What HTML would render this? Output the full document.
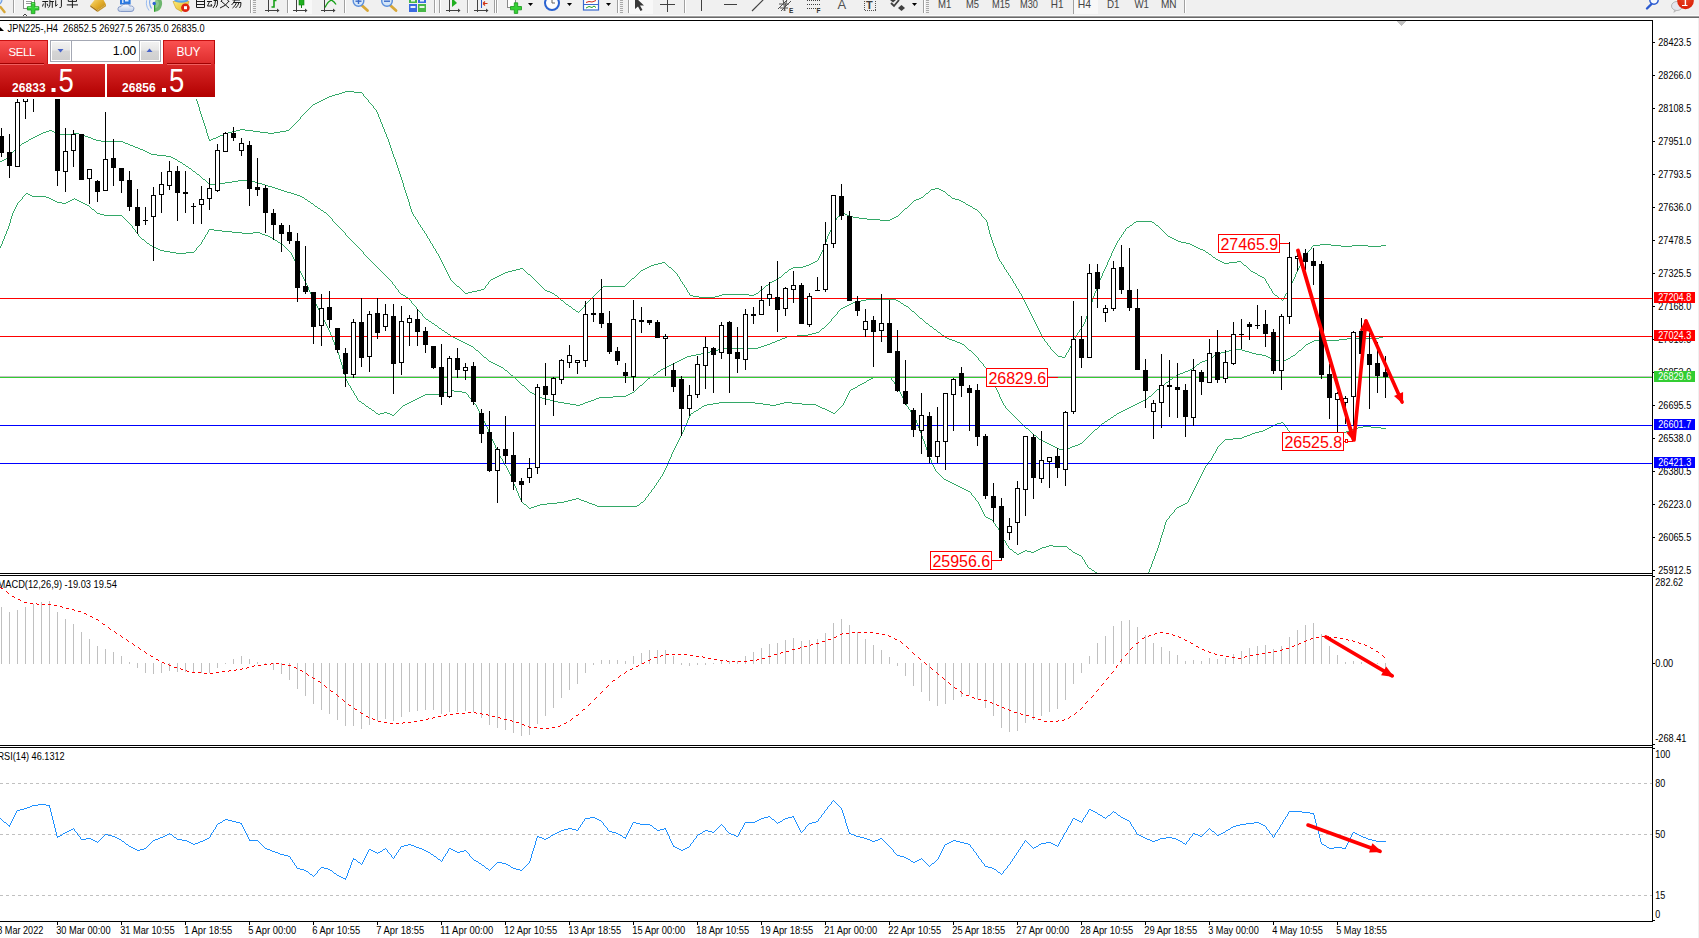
<!DOCTYPE html>
<html><head><meta charset="utf-8"><title>JPN225-,H4</title>
<style>
html,body{margin:0;padding:0;background:#fff;}
body{width:1699px;height:938px;overflow:hidden;position:relative;font-family:"Liberation Sans",sans-serif;}
svg{position:absolute;left:0;top:0;display:block}
text{font-family:"Liberation Sans",sans-serif;}
.ax{font-size:10.2px;fill:#000}
.tm{font-size:10.2px;fill:#000}
.tag{font-size:10.2px;fill:#fff}
.lbl{font-size:16px;fill:#ff0000;letter-spacing:-0.05px}
.ttl{font-size:10.2px;fill:#000}
.tf{font-size:10.2px;fill:#444}
</style></head><body>
<svg width="1699" height="938" viewBox="0 0 1699 938">
<defs>
<linearGradient id="gSell" x1="0" y1="0" x2="0" y2="1"><stop offset="0" stop-color="#fb5252"/><stop offset="1" stop-color="#dc2a2a"/></linearGradient>
<linearGradient id="gPrice" x1="0" y1="0" x2="0" y2="1"><stop offset="0" stop-color="#d92828"/><stop offset="1" stop-color="#b20000"/></linearGradient>
<linearGradient id="gBtn" x1="0" y1="0" x2="0" y2="1"><stop offset="0" stop-color="#f2f2f2"/><stop offset="0.45" stop-color="#e6e6e6"/><stop offset="0.5" stop-color="#d6d6d6"/><stop offset="1" stop-color="#cfcfcf"/></linearGradient>
<radialGradient id="gBadge" cx="0.5" cy="0.3" r="0.8"><stop offset="0" stop-color="#e84a2a"/><stop offset="1" stop-color="#d81800"/></radialGradient>
<clipPath id="cMain"><rect x="0" y="21" width="1652" height="552"/></clipPath>
<clipPath id="cMacd"><rect x="0" y="576" width="1652" height="169"/></clipPath>
<clipPath id="cRsi"><rect x="0" y="748" width="1652" height="173"/></clipPath>
</defs>
<rect x="0" y="0" width="1699" height="938" fill="#fff"/>
<g clip-path="url(#cMain)" shape-rendering="crispEdges">
<path d="M185.5 70v2M186.5 72v2M187.5 74v3M188.5 77v3M189.5 80v2M190.5 82v3M191.5 85v3M192.5 88v2M193.5 90v3M194.5 93v3M195.5 96v2M196.5 98v3M197.5 101v3M198.5 104v3M199.5 107v4M200.5 111v3M201.5 114v3M202.5 117v3M203.5 120v3M204.5 123v3M205.5 126v3M206.5 129v4M207.5 133v3M208.5 136v3M209.5 139v2M210 140.5h1M211 139.5h2M213 138.5h3M216 137.5h2M218 136.5h2M220 135.5h3M223 134.5h2M225 133.5h3M228 132.5h4M232 131.5h4M236 130.5h4M240 129.5h5M245 130.5h8M253 131.5h7M260 132.5h8M268 133.5h6M274 132.5h6M280 131.5h6M286 130.5h3M289 129.5h1M290 128.5h1M291 127.5h1M292 126.5h1M293 125.5h1M294 124.5h1M295 123.5h1M296 122.5h1M297 121.5h1M298 120.5h1M299 119.5h1M300.5 117v2M301 116.5h1M302 115.5h1M303 114.5h1M304 113.5h1M305 112.5h1M306 111.5h1M307 110.5h1M308 109.5h1M309 108.5h1M310 107.5h1M311 106.5h1M312 105.5h1M313 104.5h2M315 103.5h2M317 102.5h2M319 101.5h2M321 100.5h2M323 99.5h2M325 98.5h2M327 97.5h2M329 96.5h3M332 95.5h3M335 94.5h4M339 93.5h3M342 92.5h3M345 91.5h9M354 92.5h8M362 93.5h1M363.5 94v2M364 96.5h1M365 97.5h1M366 98.5h1M367 99.5h1M368.5 100v2M369 102.5h1M370 103.5h1M371 104.5h1M372 105.5h1M373.5 106v2M374 108.5h1M375 109.5h1M376.5 110v2M377.5 112v2M378.5 114v3M379.5 117v2M380.5 119v3M381.5 122v2M382.5 124v3M383.5 127v2M384.5 129v3M385.5 132v2M386.5 134v3M387.5 137v2M388.5 139v3M389.5 142v3M390.5 145v3M391.5 148v3M392.5 151v3M393.5 154v3M394.5 157v2M395.5 159v3M396.5 162v3M397.5 165v3M398.5 168v3M399.5 171v3M400.5 174v3M401.5 177v3M402.5 180v3M403.5 183v4M404.5 187v3M405.5 190v3M406.5 193v3M407.5 196v3M408.5 199v3M409.5 202v4M410.5 206v3M411.5 209v3M412.5 212v2M413.5 214v2M414 216.5h1M415.5 217v2M416 219.5h1M417.5 220v2M418.5 222v2M419 224.5h1M420.5 225v2M421 227.5h1M422.5 228v2M423 230.5h1M424.5 231v2M425 233.5h1M426.5 234v2M427.5 236v2M428 238.5h1M429.5 239v2M430.5 241v2M431 243.5h1M432.5 244v2M433.5 246v2M434 248.5h1M435.5 249v2M436.5 251v2M437 253.5h1M438.5 254v2M439.5 256v2M440.5 258v2M441.5 260v2M442.5 262v2M443.5 264v2M444.5 266v2M445.5 268v2M446.5 270v2M447.5 272v2M448.5 274v2M449.5 276v2M450.5 278v2M451 280.5h1M452 281.5h1M453 282.5h1M454 283.5h1M455 284.5h1M456 285.5h1M457 286.5h2M459 287.5h1M460 288.5h1M461 289.5h1M462 290.5h1M463 291.5h1M464 292.5h1M465 293.5h3M468 292.5h4M472 291.5h5M477 290.5h4M481 289.5h3M484 288.5h1M485.5 286v2M486 285.5h1M487 284.5h1M488.5 282v2M489 281.5h1M490 280.5h1M491 279.5h2M493 278.5h2M495 277.5h2M497 276.5h2M499 275.5h2M501 274.5h2M503 273.5h2M505 272.5h3M508 271.5h4M512 270.5h4M516 269.5h4M520 268.5h3M523 269.5h1M524 270.5h1M525 271.5h1M526 272.5h1M527 273.5h1M528 274.5h2M530 275.5h1M531 276.5h1M532 277.5h1M533 278.5h1M534 279.5h1M535 280.5h1M536 281.5h1M537 282.5h1M538 283.5h1M539 284.5h1M540 285.5h1M541 286.5h1M542 287.5h1M543 288.5h1M544 289.5h1M545 290.5h2M547 291.5h3M550 292.5h2M552 293.5h2M554 294.5h1M555 295.5h2M557 296.5h1M558 297.5h1M559 298.5h1M560 299.5h1M561 300.5h2M563 301.5h1M564 302.5h1M565 303.5h1M566 304.5h2M568 305.5h1M569 306.5h2M571 307.5h1M572 308.5h1M573 309.5h2M575 310.5h1M576 311.5h2M578 312.5h1M579 311.5h1M580 310.5h1M581 309.5h1M582 308.5h1M583 307.5h1M584.5 305v2M585 304.5h1M586 303.5h1M587 302.5h1M588 301.5h1M589 300.5h1M590 299.5h1M591 298.5h1M592 297.5h1M593 296.5h1M594 295.5h1M595 294.5h1M596 293.5h1M597 292.5h1M598 291.5h1M599 290.5h1M600 289.5h1M601 288.5h1M602 287.5h1M603 286.5h22M625 285.5h1M626 284.5h1M627 283.5h1M628 282.5h1M629 281.5h1M630 280.5h1M631 279.5h1M632 278.5h2M634 277.5h1M635 276.5h1M636 275.5h1M637 274.5h1M638 273.5h1M639 272.5h1M640 271.5h1M641 270.5h2M643 269.5h2M645 268.5h2M647 267.5h2M649 266.5h2M651 265.5h3M654 264.5h4M658 263.5h4M662 262.5h3M665 263.5h1M666 264.5h1M667 265.5h1M668 266.5h1M669 267.5h2M671 268.5h1M672 269.5h1M673 270.5h1M674 271.5h1M675 272.5h1M676 273.5h1M677.5 274v2M678 276.5h1M679.5 277v2M680.5 279v2M681 281.5h1M682.5 282v2M683 284.5h1M684.5 285v2M685 287.5h1M686.5 288v2M687.5 290v2M688 292.5h1M689.5 293v2M690 295.5h3M693 296.5h6M699 297.5h16M715 296.5h4M719 295.5h3M722 294.5h27M749 295.5h5M754 294.5h2M756 293.5h2M758 292.5h1M759 291.5h1M760 290.5h2M762 289.5h1M763 288.5h1M764 287.5h1M765 286.5h1M766 285.5h2M768 284.5h1M769 283.5h1M770 282.5h2M772 281.5h2M774 280.5h2M776 279.5h2M778 278.5h1M779 277.5h2M781 276.5h1M782 275.5h1M783 274.5h1M784 273.5h1M785 272.5h2M787 271.5h1M788 270.5h1M789 269.5h2M791 268.5h2M793 267.5h10M803 266.5h3M806 265.5h3M809 264.5h2M811 263.5h2M813 262.5h2M815 261.5h2M817 260.5h1M818.5 258v2M819.5 256v2M820.5 254v2M821.5 252v2M822.5 250v2M823.5 247v3M824.5 244v3M825.5 242v2M826.5 239v3M827.5 236v3M828.5 234v2M829.5 232v2M830.5 230v2M831.5 228v2M832.5 226v2M833.5 224v2M834.5 222v2M835.5 220v2M836.5 218v2M837 217.5h1M838 216.5h2M840 215.5h2M842 214.5h2M844 213.5h1M845 214.5h2M847 215.5h2M849 216.5h4M853 217.5h6M859 218.5h8M867 219.5h13M880 220.5h10M890 219.5h2M892 218.5h2M894 217.5h2M896 216.5h2M898 215.5h1M899 214.5h1M900 213.5h1M901 212.5h1M902 211.5h1M903 210.5h1M904 209.5h1M905 208.5h2M907 207.5h1M908 206.5h1M909 205.5h1M910 204.5h1M911 203.5h1M912 202.5h1M913 201.5h1M914 200.5h2M916 199.5h3M919 198.5h2M921 197.5h2M923 196.5h1M924 195.5h1M925 194.5h1M926 193.5h2M928 192.5h1M929 191.5h1M930 190.5h1M931 189.5h4M935 188.5h4M939 189.5h2M941 190.5h2M943 191.5h2M945 192.5h1M946 193.5h1M947 194.5h1M948 195.5h2M950 196.5h1M951 197.5h1M952 198.5h3M955 199.5h4M959 200.5h2M961 201.5h2M963 202.5h2M965 203.5h1M966 204.5h2M968 205.5h2M970 206.5h2M972 207.5h1M973 208.5h2M975 209.5h2M977 210.5h1M978 211.5h1M979 212.5h1M980 213.5h1M981.5 214v2M982 216.5h1M983 217.5h1M984 218.5h1M985 219.5h1M986.5 220v2M987.5 222v4M988.5 226v4M989.5 230v4M990.5 234v3M991.5 237v3M992.5 240v3M993.5 243v3M994.5 246v2M995.5 248v3M996.5 251v3M997.5 254v3M998.5 257v2M999.5 259v2M1000 261.5h1M1001.5 262v2M1002 264.5h1M1003.5 265v2M1004.5 267v2M1005 269.5h1M1006.5 270v2M1007 272.5h1M1008.5 273v2M1009 275.5h1M1010.5 276v2M1011 278.5h1M1012.5 279v2M1013.5 281v2M1014 283.5h1M1015.5 284v2M1016.5 286v2M1017 288.5h1M1018.5 289v2M1019.5 291v2M1020 293.5h1M1021.5 294v2M1022.5 296v2M1023.5 298v2M1024.5 300v2M1025.5 302v2M1026.5 304v2M1027.5 306v2M1028.5 308v2M1029.5 310v2M1030.5 312v2M1031.5 314v2M1032.5 316v2M1033.5 318v2M1034.5 320v2M1035.5 322v2M1036.5 324v2M1037.5 326v2M1038.5 328v2M1039.5 330v2M1040.5 332v2M1041.5 334v2M1042.5 336v2M1043 338.5h1M1044.5 339v2M1045 341.5h1M1046 342.5h1M1047.5 343v2M1048 345.5h1M1049 346.5h1M1050.5 347v2M1051 349.5h1M1052 350.5h1M1053 351.5h1M1054 352.5h1M1055 353.5h1M1056 354.5h1M1057 355.5h1M1058 356.5h4M1062 357.5h3M1065.5 355v2M1066.5 353v2M1067 352.5h1M1068.5 350v2M1069.5 348v2M1070.5 346v2M1071.5 344v2M1072.5 342v2M1073.5 340v2M1074.5 338v2M1075.5 336v2M1076 335.5h1M1077.5 333v2M1078 332.5h1M1079.5 330v2M1080 329.5h1M1081.5 327v2M1082 326.5h1M1083.5 324v2M1084.5 322v2M1085.5 319v3M1086.5 316v3M1087.5 313v3M1088.5 311v2M1089.5 308v3M1090.5 305v3M1091.5 302v3M1092.5 299v3M1093.5 296v3M1094.5 293v3M1095.5 291v2M1096.5 288v3M1097.5 285v3M1098.5 282v3M1099.5 280v2M1100.5 278v2M1101.5 276v2M1102.5 273v3M1103.5 271v2M1104.5 269v2M1105.5 267v2M1106.5 265v2M1107.5 262v3M1108.5 260v2M1109.5 258v2M1110.5 256v2M1111.5 253v3M1112.5 251v2M1113.5 249v2M1114.5 247v2M1115.5 245v2M1116.5 243v2M1117.5 241v2M1118 240.5h1M1119.5 238v2M1120 237.5h1M1121.5 235v2M1122 234.5h1M1123.5 232v2M1124 231.5h1M1125.5 229v2M1126 228.5h1M1127 227.5h2M1129 226.5h1M1130 225.5h2M1132 224.5h1M1133 223.5h1M1134 222.5h2M1136 221.5h16M1152 222.5h2M1154 223.5h1M1155 224.5h1M1156 225.5h2M1158 226.5h1M1159 227.5h1M1160 228.5h1M1161 229.5h1M1162 230.5h1M1163 231.5h1M1164 232.5h1M1165 233.5h1M1166 234.5h1M1167 235.5h1M1168 236.5h2M1170 237.5h2M1172 238.5h2M1174 239.5h2M1176 240.5h2M1178 241.5h3M1181 242.5h5M1186 243.5h4M1190 244.5h2M1192 245.5h2M1194 246.5h2M1196 247.5h2M1198 248.5h2M1200 249.5h3M1203 250.5h2M1205 251.5h1M1206 252.5h2M1208 253.5h1M1209 254.5h2M1211 255.5h1M1212 256.5h1M1213 257.5h2M1215 258.5h1M1216 259.5h2M1218 260.5h2M1220 261.5h2M1222 262.5h2M1224 263.5h5M1229 262.5h8M1237 261.5h4M1241 262.5h1M1242 263.5h1M1243 264.5h1M1244 265.5h2M1246 266.5h1M1247 267.5h1M1248 268.5h1M1249 269.5h1M1250 270.5h1M1251 271.5h2M1253 272.5h2M1255 273.5h2M1257 274.5h1M1258 275.5h2M1260 276.5h2M1262 277.5h2M1264 278.5h1M1265.5 279v2M1266.5 281v2M1267 283.5h1M1268.5 284v2M1269.5 286v2M1270 288.5h1M1271.5 289v2M1272.5 291v2M1273 293.5h1M1274 294.5h1M1275 295.5h2M1277 296.5h1M1278 297.5h1M1279 298.5h2M1281 299.5h1M1282 300.5h1M1283.5 298v2M1284.5 296v2M1285.5 294v2M1286 293.5h1M1287.5 291v2M1288.5 289v2M1289.5 287v2M1290.5 285v2M1291.5 283v2M1292.5 281v2M1293.5 279v2M1294.5 277v2M1295.5 274v3M1296.5 272v2M1297.5 270v2M1298.5 268v2M1299.5 266v2M1300.5 264v2M1301.5 262v2M1302.5 260v2M1303.5 258v2M1304.5 256v2M1305 255.5h1M1306 254.5h1M1307.5 252v2M1308 251.5h1M1309 250.5h1M1310 249.5h1M1311.5 247v2M1312 246.5h1M1313 245.5h7M1320 244.5h11M1331 245.5h10M1341 246.5h11M1352 245.5h16M1368 246.5h13M1381 245.5h5" fill="none" stroke="#33a867" stroke-width="1"/>
<path d="M0 161.5h2M2 160.5h2M4 159.5h2M6 158.5h1M7 157.5h1M8 156.5h1M9 155.5h1M10 154.5h1M11 153.5h1M12 152.5h1M13 151.5h1M14 150.5h1M15 149.5h1M16 148.5h2M18 147.5h1M19 146.5h1M20 145.5h1M21 144.5h1M22 143.5h2M24 142.5h2M26 141.5h2M28 140.5h1M29 139.5h2M31 138.5h2M33 137.5h2M35 136.5h2M37 135.5h2M39 134.5h2M41 133.5h2M43 132.5h3M46 131.5h3M49 130.5h3M52 131.5h2M54 132.5h3M57 133.5h2M59 134.5h14M73 133.5h6M79 134.5h3M82 135.5h3M85 136.5h3M88 137.5h3M91 138.5h2M93 139.5h3M96 140.5h5M101 141.5h22M123 142.5h2M125 143.5h3M128 144.5h2M130 145.5h3M133 146.5h2M135 147.5h3M138 148.5h2M140 149.5h3M143 150.5h2M145 151.5h2M147 152.5h2M149 153.5h2M151 154.5h6M157 155.5h9M166 156.5h5M171 157.5h2M173 158.5h2M175 159.5h2M177 160.5h1M178 161.5h2M180 162.5h2M182 163.5h1M183 164.5h2M185 165.5h1M186 166.5h2M188 167.5h1M189 168.5h2M191 169.5h1M192 170.5h1M193 171.5h2M195 172.5h1M196 173.5h1M197 174.5h2M199 175.5h1M200 176.5h1M201 177.5h1M202 178.5h1M203 179.5h2M205 180.5h1M206 181.5h1M207 182.5h1M208 183.5h1M209 184.5h7M216 183.5h9M225 182.5h7M232 181.5h6M238 180.5h10M248 181.5h7M255 182.5h3M258 183.5h4M262 184.5h3M265 185.5h3M268 186.5h4M272 187.5h3M275 188.5h3M278 189.5h3M281 190.5h3M284 191.5h3M287 192.5h4M291 193.5h3M294 194.5h3M297 195.5h3M300 196.5h2M302 197.5h2M304 198.5h1M305 199.5h2M307 200.5h1M308 201.5h2M310 202.5h1M311 203.5h2M313 204.5h1M314 205.5h1M315 206.5h2M317 207.5h1M318 208.5h2M320 209.5h1M321 210.5h2M323 211.5h1M324 212.5h2M326 213.5h1M327 214.5h1M328 215.5h1M329 216.5h1M330 217.5h1M331 218.5h1M332.5 219v2M333 221.5h1M334 222.5h1M335 223.5h1M336 224.5h1M337 225.5h1M338 226.5h1M339 227.5h1M340 228.5h1M341 229.5h1M342 230.5h1M343 231.5h1M344 232.5h1M345.5 233v2M346 235.5h1M347 236.5h1M348 237.5h1M349 238.5h1M350 239.5h1M351 240.5h1M352 241.5h1M353 242.5h1M354 243.5h1M355 244.5h1M356 245.5h1M357 246.5h1M358 247.5h1M359 248.5h1M360 249.5h1M361 250.5h1M362 251.5h1M363.5 252v2M364 254.5h1M365 255.5h1M366 256.5h1M367 257.5h1M368 258.5h1M369 259.5h1M370 260.5h1M371 261.5h1M372 262.5h1M373 263.5h1M374 264.5h1M375 265.5h1M376 266.5h1M377 267.5h1M378 268.5h1M379 269.5h1M380 270.5h1M381 271.5h1M382 272.5h1M383 273.5h1M384 274.5h1M385 275.5h1M386 276.5h1M387 277.5h1M388 278.5h1M389 279.5h1M390 280.5h1M391 281.5h1M392.5 282v2M393 284.5h1M394 285.5h1M395.5 286v2M396 288.5h1M397 289.5h1M398.5 290v2M399 292.5h1M400 293.5h1M401 294.5h2M403 295.5h2M405 296.5h1M406 297.5h2M408 298.5h1M409 299.5h1M410 300.5h1M411.5 301v2M412 303.5h1M413 304.5h1M414 305.5h1M415 306.5h1M416.5 307v2M417 309.5h1M418 310.5h1M419 311.5h1M420 312.5h1M421 313.5h1M422.5 314v2M423 316.5h1M424 317.5h1M425 318.5h1M426 319.5h2M428 320.5h1M429 321.5h2M431 322.5h1M432 323.5h2M434 324.5h1M435 325.5h2M437 326.5h1M438 327.5h1M439 328.5h2M441 329.5h1M442 330.5h2M444 331.5h1M445 332.5h2M447 333.5h1M448 334.5h2M450 335.5h1M451 336.5h2M453 337.5h2M455 338.5h2M457 339.5h2M459 340.5h2M461 341.5h2M463 342.5h2M465 343.5h2M467 344.5h2M469 345.5h2M471 346.5h2M473 347.5h1M474 348.5h1M475 349.5h1M476 350.5h2M478 351.5h1M479 352.5h1M480 353.5h1M481 354.5h1M482 355.5h1M483 356.5h1M484 357.5h2M486 358.5h1M487 359.5h1M488 360.5h1M489 361.5h2M491 362.5h2M493 363.5h2M495 364.5h2M497 365.5h2M499 366.5h2M501 367.5h2M503 368.5h1M504 369.5h1M505 370.5h2M507 371.5h1M508 372.5h1M509 373.5h1M510 374.5h1M511 375.5h2M513 376.5h1M514 377.5h1M515 378.5h1M516 379.5h1M517 380.5h1M518 381.5h1M519 382.5h1M520 383.5h1M521 384.5h1M522 385.5h2M524 386.5h1M525 387.5h1M526 388.5h1M527 389.5h1M528 390.5h1M529 391.5h1M530 392.5h2M532 393.5h2M534 394.5h2M536 395.5h2M538 396.5h2M540 397.5h2M542 398.5h4M546 399.5h4M550 400.5h4M554 401.5h4M558 402.5h6M564 403.5h6M570 404.5h6M576 405.5h4M580 404.5h3M583 403.5h2M585 402.5h3M588 401.5h3M591 400.5h3M594 399.5h2M596 398.5h3M599 397.5h14M613 396.5h13M626 395.5h2M628 394.5h2M630 393.5h2M632 392.5h2M634 391.5h1M635 390.5h1M636 389.5h1M637 388.5h1M638 387.5h1M639 386.5h1M640 385.5h2M642 384.5h1M643 383.5h1M644 382.5h1M645 381.5h1M646 380.5h1M647 379.5h1M648 378.5h2M650 377.5h1M651 376.5h2M653 375.5h1M654 374.5h2M656 373.5h1M657 372.5h1M658 371.5h2M660 370.5h1M661 369.5h2M663 368.5h2M665 367.5h2M667 366.5h2M669 365.5h2M671 364.5h2M673 363.5h2M675 362.5h2M677 361.5h2M679 360.5h2M681 359.5h2M683 358.5h2M685 357.5h2M687 356.5h4M691 355.5h5M696 354.5h5M701 353.5h5M706 352.5h4M710 351.5h4M714 350.5h4M718 349.5h4M722 348.5h36M758 347.5h3M761 346.5h3M764 345.5h3M767 344.5h3M770 343.5h2M772 342.5h3M775 341.5h2M777 340.5h3M780 339.5h2M782 338.5h3M785 337.5h2M787 336.5h10M797 335.5h11M808 334.5h4M812 333.5h4M816 332.5h3M819 331.5h1M820 330.5h1M821 329.5h1M822 328.5h2M824 327.5h1M825 326.5h1M826 325.5h1M827 324.5h1M828 323.5h1M829 322.5h1M830 321.5h1M831.5 319v2M832 318.5h1M833 317.5h1M834 316.5h1M835 315.5h1M836 314.5h1M837.5 312v2M838 311.5h1M839 310.5h1M840 309.5h1M841 308.5h2M843 307.5h2M845 306.5h2M847 305.5h2M849 304.5h2M851 303.5h2M853 302.5h3M856 301.5h5M861 300.5h5M866 299.5h30M896 300.5h2M898 301.5h2M900 302.5h1M901 303.5h2M903 304.5h1M904 305.5h2M906 306.5h2M908 307.5h1M909 308.5h1M910 309.5h1M911 310.5h1M912 311.5h2M914 312.5h1M915 313.5h1M916 314.5h1M917 315.5h1M918 316.5h1M919 317.5h1M920 318.5h2M922 319.5h1M923 320.5h1M924 321.5h1M925 322.5h1M926 323.5h2M928 324.5h1M929 325.5h1M930 326.5h2M932 327.5h1M933 328.5h1M934 329.5h2M936 330.5h1M937 331.5h1M938 332.5h2M940 333.5h1M941 334.5h1M942 335.5h2M944 336.5h1M945 337.5h2M947 338.5h2M949 339.5h3M952 340.5h3M955 341.5h2M957 342.5h3M960 343.5h2M962 344.5h2M964 345.5h1M965 346.5h1M966 347.5h1M967 348.5h1M968 349.5h1M969 350.5h2M971 351.5h1M972 352.5h1M973 353.5h1M974 354.5h1M975 355.5h1M976 356.5h1M977 357.5h1M978.5 358v2M979 360.5h1M980 361.5h1M981 362.5h1M982 363.5h1M983.5 364v2M984 366.5h1M985 367.5h1M986.5 368v2M987.5 370v2M988.5 372v2M989.5 374v2M990.5 376v2M991.5 378v2M992.5 380v2M993.5 382v2M994.5 384v2M995.5 386v2M996.5 388v2M997.5 390v2M998.5 392v2M999.5 394v3M1000.5 397v2M1001.5 399v2M1002.5 401v2M1003.5 403v2M1004 405.5h1M1005.5 406v2M1006 408.5h1M1007 409.5h1M1008 410.5h1M1009 411.5h1M1010 412.5h1M1011 413.5h1M1012 414.5h1M1013 415.5h1M1014 416.5h1M1015 417.5h1M1016 418.5h1M1017 419.5h1M1018 420.5h1M1019 421.5h1M1020 422.5h1M1021 423.5h1M1022 424.5h1M1023 425.5h1M1024 426.5h1M1025 427.5h1M1026 428.5h2M1028 429.5h1M1029 430.5h1M1030 431.5h1M1031 432.5h1M1032 433.5h1M1033 434.5h1M1034 435.5h2M1036 436.5h1M1037 437.5h1M1038 438.5h1M1039 439.5h2M1041 440.5h2M1043 441.5h2M1045 442.5h2M1047 443.5h2M1049 444.5h2M1051 445.5h2M1053 446.5h2M1055 447.5h2M1057 448.5h2M1059 449.5h5M1064 448.5h6M1070 447.5h2M1072 446.5h3M1075 445.5h3M1078 444.5h2M1080 443.5h2M1082 442.5h1M1083 441.5h1M1084 440.5h1M1085 439.5h1M1086 438.5h1M1087 437.5h1M1088 436.5h1M1089 435.5h1M1090 434.5h1M1091 433.5h1M1092 432.5h1M1093 431.5h1M1094 430.5h1M1095 429.5h2M1097 428.5h1M1098 427.5h1M1099 426.5h1M1100 425.5h1M1101 424.5h1M1102 423.5h2M1104 422.5h1M1105 421.5h2M1107 420.5h1M1108 419.5h2M1110 418.5h1M1111 417.5h2M1113 416.5h1M1114 415.5h2M1116 414.5h1M1117 413.5h2M1119 412.5h2M1121 411.5h2M1123 410.5h2M1125 409.5h2M1127 408.5h2M1129 407.5h2M1131 406.5h2M1133 405.5h2M1135 404.5h2M1137 403.5h2M1139 402.5h2M1141 401.5h2M1143 400.5h2M1145 399.5h2M1147 398.5h1M1148 397.5h1M1149 396.5h2M1151 395.5h1M1152 394.5h1M1153 393.5h1M1154 392.5h1M1155 391.5h1M1156 390.5h1M1157 389.5h2M1159 388.5h1M1160 387.5h1M1161 386.5h1M1162 385.5h2M1164 384.5h1M1165 383.5h1M1166 382.5h2M1168 381.5h1M1169 380.5h1M1170 379.5h2M1172 378.5h1M1173 377.5h1M1174 376.5h2M1176 375.5h2M1178 374.5h2M1180 373.5h3M1183 372.5h2M1185 371.5h3M1188 370.5h2M1190 369.5h2M1192 368.5h1M1193 367.5h2M1195 366.5h1M1196 365.5h1M1197 364.5h2M1199 363.5h1M1200 362.5h2M1202 361.5h3M1205 360.5h2M1207 359.5h2M1209 358.5h2M1211 357.5h2M1213 356.5h1M1214 355.5h2M1216 354.5h2M1218 353.5h3M1221 352.5h4M1225 351.5h4M1229 350.5h7M1236 349.5h6M1242 350.5h3M1245 351.5h4M1249 352.5h3M1252 353.5h4M1256 354.5h6M1262 355.5h4M1266 356.5h2M1268 357.5h2M1270 358.5h2M1272 359.5h2M1274 360.5h12M1286 359.5h2M1288 358.5h2M1290 357.5h1M1291 356.5h2M1293 355.5h2M1295 354.5h1M1296 353.5h1M1297 352.5h1M1298 351.5h1M1299 350.5h2M1301 349.5h1M1302 348.5h1M1303 347.5h1M1304 346.5h1M1305 345.5h1M1306 344.5h2M1308 343.5h2M1310 342.5h2M1312 341.5h2M1314 340.5h25M1339 339.5h8M1347 338.5h32M1379 337.5h4M1383 336.5h3" fill="none" stroke="#33a867" stroke-width="1"/>
<path d="M0.5 246v2M1.5 244v2M2.5 241v3M3.5 239v2M4.5 236v3M5.5 234v2M6.5 231v3M7.5 229v2M8.5 226v3M9.5 223v3M10.5 219v4M11.5 216v3M12.5 213v3M13.5 211v2M14.5 209v2M15.5 207v2M16.5 205v2M17.5 203v2M18 202.5h1M19 201.5h1M20 200.5h1M21 199.5h1M22.5 197v2M23 196.5h1M24 195.5h1M25 194.5h1M26 193.5h2M28 194.5h2M30 195.5h2M32 196.5h14M46 197.5h3M49 198.5h2M51 199.5h2M53 200.5h2M55 201.5h2M57 202.5h5M62 203.5h4M66 202.5h2M68 201.5h2M70 200.5h2M72 199.5h2M74 198.5h1M75 199.5h2M77 200.5h2M79 201.5h2M81 202.5h2M83 203.5h2M85 204.5h2M87 205.5h2M89 206.5h1M90 207.5h1M91 208.5h1M92 209.5h2M94 210.5h1M95 211.5h1M96 212.5h1M97 213.5h3M100 214.5h4M104 215.5h18M122 216.5h1M123 217.5h1M124 218.5h1M125 219.5h1M126 220.5h1M127 221.5h1M128 222.5h1M129 223.5h1M130 224.5h1M131 225.5h1M132.5 226v2M133 228.5h1M134 229.5h1M135.5 230v2M136 232.5h1M137 233.5h1M138.5 234v2M139 236.5h1M140 237.5h1M141 238.5h1M142 239.5h2M144 240.5h1M145 241.5h1M146 242.5h1M147 243.5h2M149 244.5h1M150 245.5h2M152 246.5h2M154 247.5h2M156 248.5h2M158 249.5h2M160 250.5h4M164 251.5h6M170 252.5h6M176 253.5h10M186 252.5h8M194 251.5h1M195 250.5h1M196.5 248v2M197 247.5h1M198 246.5h1M199 245.5h1M200 244.5h1M201.5 242v2M202.5 240v2M203 239.5h1M204.5 237v2M205.5 235v2M206 234.5h1M207.5 232v2M208.5 230v2M209 229.5h5M214 230.5h8M222 231.5h10M232 232.5h10M242 233.5h11M253 232.5h7M260 233.5h2M262 234.5h3M265 235.5h3M268 236.5h2M270 237.5h2M272 238.5h2M274 239.5h1M275 240.5h2M277 241.5h1M278 242.5h2M280 243.5h1M281 244.5h2M283 245.5h1M284 246.5h1M285 247.5h1M286 248.5h1M287 249.5h1M288 250.5h1M289 251.5h1M290 252.5h1M291.5 253v2M292.5 255v2M293.5 257v2M294.5 259v2M295.5 261v2M296.5 263v2M297.5 265v2M298.5 267v2M299.5 269v2M300.5 271v2M301.5 273v2M302.5 275v2M303.5 277v2M304.5 279v2M305.5 281v2M306.5 283v2M307.5 285v2M308.5 287v3M309.5 290v2M310.5 292v2M311.5 294v2M312.5 296v2M313.5 298v2M314.5 300v2M315.5 302v2M316.5 304v2M317.5 306v2M318.5 308v2M319.5 310v2M320.5 312v2M321.5 314v2M322.5 316v2M323.5 318v2M324.5 320v2M325.5 322v2M326.5 324v2M327.5 326v2M328.5 328v2M329.5 330v2M330.5 332v3M331.5 335v2M332.5 337v3M333.5 340v2M334.5 342v3M335.5 345v2M336.5 347v3M337.5 350v2M338.5 352v3M339.5 355v4M340.5 359v3M341.5 362v3M342.5 365v4M343.5 369v3M344.5 372v3M345.5 375v4M346.5 379v2M347.5 381v2M348.5 383v2M349 385.5h1M350.5 386v2M351.5 388v2M352 390.5h1M353.5 391v2M354.5 393v2M355 395.5h1M356.5 396v2M357.5 398v2M358 400.5h1M359 401.5h2M361 402.5h1M362 403.5h2M364 404.5h1M365 405.5h1M366 406.5h2M368 407.5h1M369 408.5h2M371 409.5h1M372 410.5h2M374 411.5h1M375 412.5h1M376 413.5h2M378 414.5h2M380 413.5h4M384 412.5h3M387 413.5h3M390 414.5h2M392 415.5h2M394 414.5h1M395 413.5h1M396 412.5h1M397 411.5h1M398 410.5h1M399 409.5h1M400 408.5h1M401 407.5h1M402 406.5h1M403 405.5h2M405 404.5h2M407 403.5h2M409 402.5h2M411 401.5h2M413 400.5h2M415 399.5h2M417 398.5h2M419 397.5h2M421 396.5h2M423 395.5h2M425 394.5h17M442 393.5h2M444 392.5h3M447 391.5h2M449 390.5h5M454 391.5h8M462 392.5h4M466 393.5h1M467 394.5h1M468.5 395v2M469 397.5h1M470 398.5h1M471 399.5h1M472 400.5h1M473.5 401v2M474 403.5h1M475 404.5h1M476.5 405v2M477.5 407v2M478.5 409v2M479.5 411v2M480.5 413v2M481.5 415v2M482.5 417v2M483.5 419v2M484.5 421v2M485.5 423v2M486.5 425v2M487.5 427v2M488.5 429v3M489.5 432v2M490.5 434v2M491.5 436v3M492.5 439v2M493.5 441v2M494.5 443v2M495.5 445v3M496.5 448v2M497.5 450v2M498.5 452v2M499.5 454v2M500.5 456v2M501 458.5h1M502.5 459v2M503.5 461v2M504.5 463v2M505 465.5h1M506.5 466v2M507.5 468v2M508.5 470v2M509.5 472v2M510.5 474v2M511.5 476v3M512.5 479v2M513.5 481v3M514.5 484v2M515.5 486v2M516.5 488v3M517.5 491v2M518.5 493v3M519.5 496v2M520.5 498v2M521.5 500v2M522 502.5h1M523 503.5h1M524 504.5h2M526 505.5h1M527 506.5h1M528 507.5h1M529 508.5h2M531 507.5h3M534 506.5h3M537 505.5h3M540 504.5h7M547 503.5h10M557 502.5h7M564 501.5h4M568 500.5h4M572 499.5h4M576 498.5h3M579 499.5h2M581 500.5h3M584 501.5h3M587 502.5h2M589 503.5h3M592 504.5h3M595 505.5h2M597 506.5h40M637 505.5h2M639 504.5h1M640 503.5h1M641 502.5h2M643 501.5h1M644 500.5h1M645.5 498v2M646 497.5h1M647 496.5h1M648.5 494v2M649 493.5h1M650 492.5h1M651.5 490v2M652 489.5h1M653 488.5h1M654.5 486v2M655 485.5h1M656.5 483v2M657 482.5h1M658.5 480v2M659 479.5h1M660.5 477v2M661 476.5h1M662.5 474v2M663.5 472v2M664.5 470v2M665.5 468v2M666.5 466v2M667.5 463v3M668.5 461v2M669.5 459v2M670.5 457v2M671.5 454v3M672.5 452v2M673.5 450v2M674.5 448v2M675.5 446v2M676.5 444v2M677.5 442v2M678.5 440v2M679.5 438v2M680.5 436v2M681.5 434v2M682.5 432v2M683.5 430v2M684.5 427v3M685.5 425v2M686.5 423v2M687.5 420v3M688.5 418v2M689.5 416v2M690.5 414v2M691 413.5h2M693 412.5h1M694 411.5h2M696 410.5h2M698 409.5h1M699 408.5h2M701 407.5h1M702 406.5h2M704 405.5h3M707 404.5h6M713 403.5h6M719 402.5h36M755 403.5h8M763 404.5h7M770 405.5h6M776 404.5h4M780 403.5h4M784 402.5h8M792 403.5h10M802 404.5h14M816 405.5h2M818 406.5h2M820 407.5h2M822 408.5h3M825 409.5h2M827 410.5h2M829 411.5h2M831 412.5h2M833 413.5h2M835 412.5h1M836 411.5h1M837 410.5h1M838 409.5h1M839 408.5h1M840 407.5h1M841 406.5h1M842 405.5h1M843.5 403v2M844.5 401v2M845.5 399v2M846.5 397v2M847.5 395v2M848.5 393v2M849.5 391v2M850 390.5h1M851 389.5h2M853 388.5h2M855 387.5h2M857 386.5h1M858 385.5h2M860 384.5h2M862 383.5h2M864 382.5h2M866 381.5h1M867 380.5h2M869 379.5h2M871 378.5h2M873 377.5h18M891.5 378v2M892 380.5h1M893 381.5h1M894.5 382v2M895 384.5h1M896 385.5h1M897.5 386v2M898.5 388v2M899.5 390v2M900.5 392v2M901.5 394v2M902.5 396v2M903.5 398v2M904.5 400v2M905.5 402v2M906.5 404v2M907 406.5h1M908.5 407v2M909 409.5h1M910.5 410v2M911 412.5h1M912.5 413v2M913 415.5h1M914.5 416v2M915.5 418v2M916.5 420v3M917.5 423v2M918.5 425v3M919.5 428v3M920.5 431v2M921.5 433v3M922.5 436v3M923.5 439v2M924.5 441v3M925.5 444v3M926.5 447v3M927.5 450v2M928.5 452v3M929.5 455v3M930.5 458v2M931.5 460v3M932.5 463v2M933.5 465v2M934.5 467v2M935.5 469v2M936 471.5h1M937 472.5h1M938 473.5h1M939 474.5h1M940 475.5h1M941 476.5h1M942 477.5h1M943 478.5h1M944 479.5h2M946 480.5h2M948 481.5h2M950 482.5h2M952 483.5h2M954 484.5h2M956 485.5h2M958 486.5h2M960 487.5h2M962 488.5h2M964 489.5h2M966 490.5h2M968 491.5h2M970 492.5h1M971.5 493v2M972 495.5h1M973 496.5h1M974 497.5h1M975.5 498v2M976 500.5h1M977 501.5h1M978.5 502v2M979.5 504v2M980.5 506v2M981.5 508v2M982.5 510v2M983.5 512v2M984.5 514v2M985 516.5h1M986 517.5h2M988 518.5h2M990 519.5h2M992 520.5h1M993.5 521v2M994 523.5h1M995.5 524v2M996 526.5h1M997 527.5h1M998.5 528v2M999.5 530v2M1000.5 532v2M1001.5 534v2M1002.5 536v2M1003.5 538v2M1004 540.5h1M1005.5 541v2M1006.5 543v2M1007 545.5h1M1008.5 546v2M1009 548.5h1M1010 549.5h2M1012 550.5h1M1013 551.5h1M1014 552.5h2M1016 553.5h1M1017 554.5h2M1019 553.5h2M1021 552.5h2M1023 551.5h2M1025 550.5h2M1027 551.5h4M1031 552.5h3M1034 551.5h2M1036 550.5h2M1038 549.5h2M1040 548.5h2M1042 547.5h4M1046 546.5h3M1049 545.5h4M1053 546.5h14M1067 547.5h1M1068 548.5h1M1069 549.5h2M1071 550.5h1M1072 551.5h1M1073 552.5h2M1075 553.5h2M1077 554.5h2M1079 555.5h2M1081 556.5h1M1082.5 557v2M1083 559.5h1M1084.5 560v2M1085.5 562v2M1086 564.5h1M1087.5 565v2M1088 567.5h1M1089 568.5h2M1091 569.5h1M1092 570.5h2M1094 571.5h1M1095 572.5h2M1097 573.5h1M1098 574.5h1M1099.5 575v2M1100 577.5h1M1101 578.5h1M1102.5 579v2M1103 581.5h1M1104 582.5h1M1105.5 583v2M1106 585.5h1M1107 586.5h1M1108.5 587v2M1109 589.5h1M1110 590.5h26M1136 589.5h1M1137.5 587v2M1138 586.5h1M1139 585.5h1M1140.5 583v2M1141 582.5h1M1142 581.5h1M1143.5 579v2M1144 578.5h1M1145 577.5h1M1146.5 575v2M1147 574.5h1M1148.5 572v2M1149.5 569v3M1150.5 567v2M1151.5 564v3M1152.5 561v3M1153.5 559v2M1154.5 556v3M1155.5 553v3M1156.5 551v2M1157.5 548v3M1158.5 545v3M1159.5 542v3M1160.5 538v4M1161.5 535v3M1162.5 532v3M1163.5 529v3M1164.5 525v4M1165.5 522v3M1166.5 520v2M1167 519.5h1M1168 518.5h1M1169.5 516v2M1170 515.5h1M1171 514.5h1M1172 513.5h1M1173 512.5h1M1174.5 510v2M1175 509.5h1M1176 508.5h1M1177 507.5h2M1179 506.5h2M1181 505.5h2M1183 504.5h2M1185 503.5h2M1187 502.5h1M1188.5 500v2M1189.5 498v2M1190.5 496v2M1191.5 494v2M1192.5 492v2M1193.5 490v2M1194.5 488v2M1195.5 486v2M1196.5 484v2M1197.5 482v2M1198.5 480v2M1199.5 478v2M1200.5 476v2M1201.5 474v2M1202.5 472v2M1203.5 470v2M1204.5 468v2M1205.5 466v2M1206 465.5h1M1207 464.5h1M1208.5 462v2M1209 461.5h1M1210 460.5h1M1211.5 458v2M1212.5 456v2M1213.5 454v2M1214 453.5h1M1215.5 451v2M1216.5 449v2M1217.5 447v2M1218 446.5h1M1219 445.5h1M1220 444.5h1M1221 443.5h1M1222 442.5h1M1223 441.5h1M1224 440.5h1M1225 439.5h8M1233 438.5h9M1242 437.5h2M1244 436.5h3M1247 435.5h3M1250 434.5h2M1252 433.5h3M1255 432.5h4M1259 431.5h4M1263 430.5h2M1265 429.5h2M1267 428.5h2M1269 427.5h2M1271 426.5h2M1273 425.5h2M1275 424.5h2M1277 423.5h4M1281 422.5h2M1283 423.5h1M1284.5 424v2M1285 426.5h1M1286 427.5h1M1287.5 428v2M1288 430.5h1M1289 431.5h1M1290 432.5h1M1291 433.5h2M1293 434.5h1M1294 435.5h1M1295 436.5h7M1302 435.5h12M1314 434.5h12M1326 433.5h12M1338 432.5h8M1346 431.5h3M1349 430.5h2M1351 429.5h3M1354 428.5h4M1358 427.5h5M1363 426.5h8M1371 427.5h10M1381 428.5h5" fill="none" stroke="#33a867" stroke-width="1"/>
<rect x="0" y="298" width="1652" height="1" fill="#ff0000"/>
<rect x="0" y="336" width="1652" height="1" fill="#ff0000"/>
<rect x="0" y="425" width="1652" height="1" fill="#0000ff"/>
<rect x="0" y="463" width="1652" height="1" fill="#0000ff"/>
<rect x="0" y="376" width="1652" height="1" fill="#c4c0c4"/>
<rect x="0" y="377" width="1652" height="1" fill="#32cd32"/>
<rect x="1" y="128" width="1" height="29" fill="#000"/>
<rect x="-1" y="136" width="5" height="17" fill="#000"/>
<rect x="9" y="134" width="1" height="44" fill="#000"/>
<rect x="7" y="152" width="5" height="14" fill="#000"/>
<rect x="17" y="60" width="1" height="107" fill="#000"/>
<rect x="15" y="102" width="5" height="65" fill="#000"/>
<rect x="16" y="103" width="3" height="63" fill="#fff"/>
<rect x="25" y="60" width="1" height="59" fill="#000"/>
<rect x="23" y="70" width="5" height="32" fill="#000"/>
<rect x="24" y="71" width="3" height="30" fill="#fff"/>
<rect x="33" y="60" width="1" height="52" fill="#000"/>
<rect x="31" y="62" width="5" height="29" fill="#000"/>
<rect x="57" y="50" width="1" height="136" fill="#000"/>
<rect x="55" y="55" width="5" height="116" fill="#000"/>
<rect x="65" y="128" width="1" height="64" fill="#000"/>
<rect x="63" y="151" width="5" height="21" fill="#000"/>
<rect x="64" y="152" width="3" height="19" fill="#fff"/>
<rect x="73" y="130" width="1" height="37" fill="#000"/>
<rect x="71" y="134" width="5" height="17" fill="#000"/>
<rect x="72" y="135" width="3" height="15" fill="#fff"/>
<rect x="81" y="134" width="1" height="46" fill="#000"/>
<rect x="79" y="134" width="5" height="46" fill="#000"/>
<rect x="89" y="169" width="1" height="35" fill="#000"/>
<rect x="87" y="169" width="5" height="10" fill="#000"/>
<rect x="88" y="170" width="3" height="8" fill="#fff"/>
<rect x="97" y="180" width="1" height="22" fill="#000"/>
<rect x="95" y="181" width="5" height="11" fill="#000"/>
<rect x="105" y="112" width="1" height="79" fill="#000"/>
<rect x="103" y="159" width="5" height="32" fill="#000"/>
<rect x="104" y="160" width="3" height="30" fill="#fff"/>
<rect x="113" y="139" width="1" height="47" fill="#000"/>
<rect x="111" y="158" width="5" height="10" fill="#000"/>
<rect x="121" y="168" width="1" height="25" fill="#000"/>
<rect x="119" y="168" width="5" height="13" fill="#000"/>
<rect x="129" y="171" width="1" height="40" fill="#000"/>
<rect x="127" y="180" width="5" height="27" fill="#000"/>
<rect x="137" y="189" width="1" height="45" fill="#000"/>
<rect x="135" y="207" width="5" height="19" fill="#000"/>
<rect x="145" y="207" width="1" height="18" fill="#000"/>
<rect x="143" y="220" width="5" height="1" fill="#000"/>
<rect x="153" y="187" width="1" height="74" fill="#000"/>
<rect x="151" y="195" width="5" height="22" fill="#000"/>
<rect x="152" y="196" width="3" height="20" fill="#fff"/>
<rect x="161" y="172" width="1" height="41" fill="#000"/>
<rect x="159" y="184" width="5" height="11" fill="#000"/>
<rect x="160" y="185" width="3" height="9" fill="#fff"/>
<rect x="169" y="161" width="1" height="29" fill="#000"/>
<rect x="167" y="171" width="5" height="15" fill="#000"/>
<rect x="168" y="172" width="3" height="13" fill="#fff"/>
<rect x="177" y="166" width="1" height="55" fill="#000"/>
<rect x="175" y="171" width="5" height="22" fill="#000"/>
<rect x="185" y="171" width="1" height="42" fill="#000"/>
<rect x="183" y="192" width="5" height="2" fill="#000"/>
<rect x="193" y="203" width="1" height="21" fill="#000"/>
<rect x="191" y="206" width="5" height="1" fill="#000"/>
<rect x="201" y="186" width="1" height="38" fill="#000"/>
<rect x="199" y="199" width="5" height="6" fill="#000"/>
<rect x="200" y="200" width="3" height="4" fill="#fff"/>
<rect x="209" y="178" width="1" height="32" fill="#000"/>
<rect x="207" y="188" width="5" height="11" fill="#000"/>
<rect x="208" y="189" width="3" height="9" fill="#fff"/>
<rect x="217" y="144" width="1" height="48" fill="#000"/>
<rect x="215" y="150" width="5" height="41" fill="#000"/>
<rect x="216" y="151" width="3" height="39" fill="#fff"/>
<rect x="225" y="132" width="1" height="20" fill="#000"/>
<rect x="223" y="133" width="5" height="19" fill="#000"/>
<rect x="224" y="134" width="3" height="17" fill="#fff"/>
<rect x="233" y="127" width="1" height="14" fill="#000"/>
<rect x="231" y="133" width="5" height="5" fill="#000"/>
<rect x="241" y="138" width="1" height="18" fill="#000"/>
<rect x="239" y="143" width="5" height="8" fill="#000"/>
<rect x="240" y="144" width="3" height="6" fill="#fff"/>
<rect x="249" y="141" width="1" height="65" fill="#000"/>
<rect x="247" y="145" width="5" height="44" fill="#000"/>
<rect x="257" y="158" width="1" height="38" fill="#000"/>
<rect x="255" y="187" width="5" height="3" fill="#000"/>
<rect x="265" y="185" width="1" height="48" fill="#000"/>
<rect x="263" y="188" width="5" height="25" fill="#000"/>
<rect x="273" y="209" width="1" height="31" fill="#000"/>
<rect x="271" y="213" width="5" height="12" fill="#000"/>
<rect x="281" y="223" width="1" height="29" fill="#000"/>
<rect x="279" y="225" width="5" height="9" fill="#000"/>
<rect x="289" y="225" width="1" height="19" fill="#000"/>
<rect x="287" y="232" width="5" height="9" fill="#000"/>
<rect x="297" y="233" width="1" height="69" fill="#000"/>
<rect x="295" y="241" width="5" height="47" fill="#000"/>
<rect x="305" y="246" width="1" height="48" fill="#000"/>
<rect x="303" y="286" width="5" height="6" fill="#000"/>
<rect x="313" y="292" width="1" height="52" fill="#000"/>
<rect x="311" y="292" width="5" height="35" fill="#000"/>
<rect x="321" y="294" width="1" height="52" fill="#000"/>
<rect x="319" y="308" width="5" height="18" fill="#000"/>
<rect x="320" y="309" width="3" height="16" fill="#fff"/>
<rect x="329" y="291" width="1" height="37" fill="#000"/>
<rect x="327" y="307" width="5" height="13" fill="#000"/>
<rect x="337" y="328" width="1" height="25" fill="#000"/>
<rect x="335" y="328" width="5" height="22" fill="#000"/>
<rect x="345" y="348" width="1" height="39" fill="#000"/>
<rect x="343" y="353" width="5" height="21" fill="#000"/>
<rect x="353" y="319" width="1" height="59" fill="#000"/>
<rect x="351" y="322" width="5" height="53" fill="#000"/>
<rect x="352" y="323" width="3" height="51" fill="#fff"/>
<rect x="361" y="298" width="1" height="69" fill="#000"/>
<rect x="359" y="322" width="5" height="36" fill="#000"/>
<rect x="369" y="311" width="1" height="61" fill="#000"/>
<rect x="367" y="314" width="5" height="43" fill="#000"/>
<rect x="368" y="315" width="3" height="41" fill="#fff"/>
<rect x="377" y="298" width="1" height="41" fill="#000"/>
<rect x="375" y="313" width="5" height="20" fill="#000"/>
<rect x="385" y="304" width="1" height="27" fill="#000"/>
<rect x="383" y="314" width="5" height="13" fill="#000"/>
<rect x="384" y="315" width="3" height="11" fill="#fff"/>
<rect x="393" y="304" width="1" height="90" fill="#000"/>
<rect x="391" y="316" width="5" height="48" fill="#000"/>
<rect x="401" y="306" width="1" height="69" fill="#000"/>
<rect x="399" y="321" width="5" height="42" fill="#000"/>
<rect x="400" y="322" width="3" height="40" fill="#fff"/>
<rect x="409" y="315" width="1" height="31" fill="#000"/>
<rect x="407" y="318" width="5" height="5" fill="#000"/>
<rect x="408" y="319" width="3" height="3" fill="#fff"/>
<rect x="417" y="309" width="1" height="37" fill="#000"/>
<rect x="415" y="319" width="5" height="13" fill="#000"/>
<rect x="425" y="327" width="1" height="26" fill="#000"/>
<rect x="423" y="331" width="5" height="14" fill="#000"/>
<rect x="433" y="346" width="1" height="23" fill="#000"/>
<rect x="431" y="346" width="5" height="22" fill="#000"/>
<rect x="441" y="344" width="1" height="61" fill="#000"/>
<rect x="439" y="367" width="5" height="30" fill="#000"/>
<rect x="449" y="356" width="1" height="42" fill="#000"/>
<rect x="447" y="358" width="5" height="39" fill="#000"/>
<rect x="448" y="359" width="3" height="37" fill="#fff"/>
<rect x="457" y="348" width="1" height="30" fill="#000"/>
<rect x="455" y="358" width="5" height="12" fill="#000"/>
<rect x="465" y="363" width="1" height="17" fill="#000"/>
<rect x="463" y="367" width="5" height="4" fill="#000"/>
<rect x="464" y="368" width="3" height="2" fill="#fff"/>
<rect x="473" y="362" width="1" height="43" fill="#000"/>
<rect x="471" y="366" width="5" height="36" fill="#000"/>
<rect x="481" y="409" width="1" height="34" fill="#000"/>
<rect x="479" y="413" width="5" height="21" fill="#000"/>
<rect x="489" y="411" width="1" height="61" fill="#000"/>
<rect x="487" y="432" width="5" height="39" fill="#000"/>
<rect x="497" y="447" width="1" height="56" fill="#000"/>
<rect x="495" y="449" width="5" height="22" fill="#000"/>
<rect x="496" y="450" width="3" height="20" fill="#fff"/>
<rect x="505" y="416" width="1" height="48" fill="#000"/>
<rect x="503" y="449" width="5" height="7" fill="#000"/>
<rect x="513" y="432" width="1" height="58" fill="#000"/>
<rect x="511" y="455" width="5" height="27" fill="#000"/>
<rect x="521" y="478" width="1" height="24" fill="#000"/>
<rect x="519" y="481" width="5" height="4" fill="#000"/>
<rect x="529" y="458" width="1" height="25" fill="#000"/>
<rect x="527" y="468" width="5" height="10" fill="#000"/>
<rect x="528" y="469" width="3" height="8" fill="#fff"/>
<rect x="537" y="384" width="1" height="90" fill="#000"/>
<rect x="535" y="387" width="5" height="81" fill="#000"/>
<rect x="536" y="388" width="3" height="79" fill="#fff"/>
<rect x="545" y="363" width="1" height="42" fill="#000"/>
<rect x="543" y="386" width="5" height="9" fill="#000"/>
<rect x="553" y="377" width="1" height="39" fill="#000"/>
<rect x="551" y="378" width="5" height="17" fill="#000"/>
<rect x="552" y="379" width="3" height="15" fill="#fff"/>
<rect x="561" y="359" width="1" height="25" fill="#000"/>
<rect x="559" y="360" width="5" height="20" fill="#000"/>
<rect x="560" y="361" width="3" height="18" fill="#fff"/>
<rect x="569" y="345" width="1" height="23" fill="#000"/>
<rect x="567" y="355" width="5" height="8" fill="#000"/>
<rect x="568" y="356" width="3" height="6" fill="#fff"/>
<rect x="577" y="360" width="1" height="14" fill="#000"/>
<rect x="575" y="360" width="5" height="3" fill="#000"/>
<rect x="576" y="361" width="3" height="1" fill="#fff"/>
<rect x="585" y="301" width="1" height="66" fill="#000"/>
<rect x="583" y="314" width="5" height="47" fill="#000"/>
<rect x="584" y="315" width="3" height="45" fill="#fff"/>
<rect x="593" y="298" width="1" height="24" fill="#000"/>
<rect x="591" y="313" width="5" height="2" fill="#000"/>
<rect x="601" y="279" width="1" height="49" fill="#000"/>
<rect x="599" y="313" width="5" height="11" fill="#000"/>
<rect x="609" y="311" width="1" height="43" fill="#000"/>
<rect x="607" y="323" width="5" height="29" fill="#000"/>
<rect x="617" y="347" width="1" height="18" fill="#000"/>
<rect x="615" y="351" width="5" height="10" fill="#000"/>
<rect x="625" y="363" width="1" height="20" fill="#000"/>
<rect x="623" y="372" width="5" height="4" fill="#000"/>
<rect x="633" y="300" width="1" height="91" fill="#000"/>
<rect x="631" y="319" width="5" height="58" fill="#000"/>
<rect x="632" y="320" width="3" height="56" fill="#fff"/>
<rect x="641" y="307" width="1" height="26" fill="#000"/>
<rect x="639" y="320" width="5" height="2" fill="#000"/>
<rect x="649" y="320" width="1" height="5" fill="#000"/>
<rect x="647" y="320" width="5" height="3" fill="#000"/>
<rect x="657" y="320" width="1" height="18" fill="#000"/>
<rect x="655" y="322" width="5" height="16" fill="#000"/>
<rect x="665" y="334" width="1" height="42" fill="#000"/>
<rect x="663" y="336" width="5" height="3" fill="#000"/>
<rect x="664" y="337" width="3" height="1" fill="#fff"/>
<rect x="673" y="363" width="1" height="29" fill="#000"/>
<rect x="671" y="370" width="5" height="17" fill="#000"/>
<rect x="681" y="376" width="1" height="60" fill="#000"/>
<rect x="679" y="379" width="5" height="30" fill="#000"/>
<rect x="689" y="385" width="1" height="31" fill="#000"/>
<rect x="687" y="395" width="5" height="14" fill="#000"/>
<rect x="688" y="396" width="3" height="12" fill="#fff"/>
<rect x="697" y="356" width="1" height="42" fill="#000"/>
<rect x="695" y="364" width="5" height="31" fill="#000"/>
<rect x="696" y="365" width="3" height="29" fill="#fff"/>
<rect x="705" y="337" width="1" height="52" fill="#000"/>
<rect x="703" y="347" width="5" height="19" fill="#000"/>
<rect x="704" y="348" width="3" height="17" fill="#fff"/>
<rect x="713" y="347" width="1" height="46" fill="#000"/>
<rect x="711" y="348" width="5" height="7" fill="#000"/>
<rect x="721" y="322" width="1" height="37" fill="#000"/>
<rect x="719" y="325" width="5" height="28" fill="#000"/>
<rect x="720" y="326" width="3" height="26" fill="#fff"/>
<rect x="729" y="321" width="1" height="72" fill="#000"/>
<rect x="727" y="322" width="5" height="32" fill="#000"/>
<rect x="737" y="327" width="1" height="46" fill="#000"/>
<rect x="735" y="352" width="5" height="7" fill="#000"/>
<rect x="745" y="309" width="1" height="61" fill="#000"/>
<rect x="743" y="314" width="5" height="46" fill="#000"/>
<rect x="744" y="315" width="3" height="44" fill="#fff"/>
<rect x="753" y="307" width="1" height="17" fill="#000"/>
<rect x="751" y="314" width="5" height="2" fill="#000"/>
<rect x="761" y="286" width="1" height="29" fill="#000"/>
<rect x="759" y="300" width="5" height="15" fill="#000"/>
<rect x="760" y="301" width="3" height="13" fill="#fff"/>
<rect x="769" y="282" width="1" height="24" fill="#000"/>
<rect x="767" y="294" width="5" height="5" fill="#000"/>
<rect x="768" y="295" width="3" height="3" fill="#fff"/>
<rect x="777" y="261" width="1" height="71" fill="#000"/>
<rect x="775" y="297" width="5" height="13" fill="#000"/>
<rect x="785" y="287" width="1" height="29" fill="#000"/>
<rect x="783" y="288" width="5" height="21" fill="#000"/>
<rect x="784" y="289" width="3" height="19" fill="#fff"/>
<rect x="793" y="271" width="1" height="32" fill="#000"/>
<rect x="791" y="285" width="5" height="5" fill="#000"/>
<rect x="792" y="286" width="3" height="3" fill="#fff"/>
<rect x="801" y="283" width="1" height="41" fill="#000"/>
<rect x="799" y="285" width="5" height="39" fill="#000"/>
<rect x="809" y="293" width="1" height="34" fill="#000"/>
<rect x="807" y="296" width="5" height="29" fill="#000"/>
<rect x="808" y="297" width="3" height="27" fill="#fff"/>
<rect x="817" y="277" width="1" height="14" fill="#000"/>
<rect x="815" y="290" width="5" height="1" fill="#000"/>
<rect x="825" y="222" width="1" height="70" fill="#000"/>
<rect x="823" y="244" width="5" height="46" fill="#000"/>
<rect x="824" y="245" width="3" height="44" fill="#fff"/>
<rect x="833" y="195" width="1" height="53" fill="#000"/>
<rect x="831" y="195" width="5" height="49" fill="#000"/>
<rect x="832" y="196" width="3" height="47" fill="#fff"/>
<rect x="841" y="184" width="1" height="36" fill="#000"/>
<rect x="839" y="196" width="5" height="20" fill="#000"/>
<rect x="849" y="211" width="1" height="90" fill="#000"/>
<rect x="847" y="216" width="5" height="85" fill="#000"/>
<rect x="857" y="296" width="1" height="20" fill="#000"/>
<rect x="855" y="301" width="5" height="10" fill="#000"/>
<rect x="865" y="309" width="1" height="28" fill="#000"/>
<rect x="863" y="321" width="5" height="9" fill="#000"/>
<rect x="864" y="322" width="3" height="7" fill="#fff"/>
<rect x="873" y="316" width="1" height="51" fill="#000"/>
<rect x="871" y="320" width="5" height="12" fill="#000"/>
<rect x="881" y="294" width="1" height="48" fill="#000"/>
<rect x="879" y="323" width="5" height="8" fill="#000"/>
<rect x="880" y="324" width="3" height="6" fill="#fff"/>
<rect x="889" y="300" width="1" height="53" fill="#000"/>
<rect x="887" y="323" width="5" height="30" fill="#000"/>
<rect x="897" y="330" width="1" height="62" fill="#000"/>
<rect x="895" y="351" width="5" height="40" fill="#000"/>
<rect x="905" y="360" width="1" height="45" fill="#000"/>
<rect x="903" y="391" width="5" height="13" fill="#000"/>
<rect x="913" y="408" width="1" height="29" fill="#000"/>
<rect x="911" y="410" width="5" height="20" fill="#000"/>
<rect x="921" y="393" width="1" height="61" fill="#000"/>
<rect x="919" y="415" width="5" height="16" fill="#000"/>
<rect x="920" y="416" width="3" height="14" fill="#fff"/>
<rect x="929" y="412" width="1" height="51" fill="#000"/>
<rect x="927" y="416" width="5" height="41" fill="#000"/>
<rect x="937" y="407" width="1" height="56" fill="#000"/>
<rect x="935" y="441" width="5" height="16" fill="#000"/>
<rect x="936" y="442" width="3" height="14" fill="#fff"/>
<rect x="945" y="393" width="1" height="77" fill="#000"/>
<rect x="943" y="393" width="5" height="49" fill="#000"/>
<rect x="944" y="394" width="3" height="47" fill="#fff"/>
<rect x="953" y="378" width="1" height="53" fill="#000"/>
<rect x="951" y="379" width="5" height="16" fill="#000"/>
<rect x="952" y="380" width="3" height="14" fill="#fff"/>
<rect x="961" y="367" width="1" height="30" fill="#000"/>
<rect x="959" y="373" width="5" height="13" fill="#000"/>
<rect x="969" y="385" width="1" height="46" fill="#000"/>
<rect x="967" y="388" width="5" height="5" fill="#000"/>
<rect x="977" y="384" width="1" height="62" fill="#000"/>
<rect x="975" y="390" width="5" height="47" fill="#000"/>
<rect x="985" y="434" width="1" height="65" fill="#000"/>
<rect x="983" y="436" width="5" height="60" fill="#000"/>
<rect x="993" y="483" width="1" height="39" fill="#000"/>
<rect x="991" y="496" width="5" height="12" fill="#000"/>
<rect x="1001" y="498" width="1" height="63" fill="#000"/>
<rect x="999" y="506" width="5" height="52" fill="#000"/>
<rect x="1009" y="518" width="1" height="22" fill="#000"/>
<rect x="1007" y="526" width="5" height="7" fill="#000"/>
<rect x="1008" y="527" width="3" height="5" fill="#fff"/>
<rect x="1017" y="481" width="1" height="64" fill="#000"/>
<rect x="1015" y="488" width="5" height="35" fill="#000"/>
<rect x="1016" y="489" width="3" height="33" fill="#fff"/>
<rect x="1025" y="436" width="1" height="80" fill="#000"/>
<rect x="1023" y="436" width="5" height="54" fill="#000"/>
<rect x="1024" y="437" width="3" height="52" fill="#fff"/>
<rect x="1033" y="434" width="1" height="65" fill="#000"/>
<rect x="1031" y="437" width="5" height="41" fill="#000"/>
<rect x="1041" y="431" width="1" height="52" fill="#000"/>
<rect x="1039" y="460" width="5" height="19" fill="#000"/>
<rect x="1040" y="461" width="3" height="17" fill="#fff"/>
<rect x="1049" y="457" width="1" height="31" fill="#000"/>
<rect x="1047" y="457" width="5" height="5" fill="#000"/>
<rect x="1048" y="458" width="3" height="3" fill="#fff"/>
<rect x="1057" y="448" width="1" height="30" fill="#000"/>
<rect x="1055" y="456" width="5" height="12" fill="#000"/>
<rect x="1065" y="411" width="1" height="75" fill="#000"/>
<rect x="1063" y="412" width="5" height="58" fill="#000"/>
<rect x="1064" y="413" width="3" height="56" fill="#fff"/>
<rect x="1073" y="301" width="1" height="113" fill="#000"/>
<rect x="1071" y="339" width="5" height="73" fill="#000"/>
<rect x="1072" y="340" width="3" height="71" fill="#fff"/>
<rect x="1081" y="316" width="1" height="52" fill="#000"/>
<rect x="1079" y="339" width="5" height="19" fill="#000"/>
<rect x="1089" y="264" width="1" height="94" fill="#000"/>
<rect x="1087" y="273" width="5" height="85" fill="#000"/>
<rect x="1088" y="274" width="3" height="83" fill="#fff"/>
<rect x="1097" y="264" width="1" height="44" fill="#000"/>
<rect x="1095" y="272" width="5" height="17" fill="#000"/>
<rect x="1105" y="305" width="1" height="17" fill="#000"/>
<rect x="1103" y="308" width="5" height="5" fill="#000"/>
<rect x="1104" y="309" width="3" height="3" fill="#fff"/>
<rect x="1113" y="261" width="1" height="50" fill="#000"/>
<rect x="1111" y="268" width="5" height="41" fill="#000"/>
<rect x="1112" y="269" width="3" height="39" fill="#fff"/>
<rect x="1121" y="245" width="1" height="49" fill="#000"/>
<rect x="1119" y="267" width="5" height="23" fill="#000"/>
<rect x="1129" y="248" width="1" height="63" fill="#000"/>
<rect x="1127" y="290" width="5" height="18" fill="#000"/>
<rect x="1137" y="289" width="1" height="81" fill="#000"/>
<rect x="1135" y="308" width="5" height="62" fill="#000"/>
<rect x="1145" y="359" width="1" height="49" fill="#000"/>
<rect x="1143" y="370" width="5" height="21" fill="#000"/>
<rect x="1153" y="400" width="1" height="39" fill="#000"/>
<rect x="1151" y="403" width="5" height="9" fill="#000"/>
<rect x="1152" y="404" width="3" height="7" fill="#fff"/>
<rect x="1161" y="354" width="1" height="74" fill="#000"/>
<rect x="1159" y="385" width="5" height="18" fill="#000"/>
<rect x="1160" y="386" width="3" height="16" fill="#fff"/>
<rect x="1169" y="360" width="1" height="57" fill="#000"/>
<rect x="1167" y="385" width="5" height="2" fill="#000"/>
<rect x="1177" y="363" width="1" height="55" fill="#000"/>
<rect x="1175" y="387" width="5" height="3" fill="#000"/>
<rect x="1185" y="384" width="1" height="53" fill="#000"/>
<rect x="1183" y="390" width="5" height="27" fill="#000"/>
<rect x="1193" y="359" width="1" height="67" fill="#000"/>
<rect x="1191" y="370" width="5" height="48" fill="#000"/>
<rect x="1192" y="371" width="3" height="46" fill="#fff"/>
<rect x="1201" y="370" width="1" height="25" fill="#000"/>
<rect x="1199" y="372" width="5" height="10" fill="#000"/>
<rect x="1209" y="339" width="1" height="44" fill="#000"/>
<rect x="1207" y="353" width="5" height="30" fill="#000"/>
<rect x="1208" y="354" width="3" height="28" fill="#fff"/>
<rect x="1217" y="330" width="1" height="53" fill="#000"/>
<rect x="1215" y="352" width="5" height="28" fill="#000"/>
<rect x="1225" y="350" width="1" height="33" fill="#000"/>
<rect x="1223" y="362" width="5" height="17" fill="#000"/>
<rect x="1224" y="363" width="3" height="15" fill="#fff"/>
<rect x="1233" y="322" width="1" height="43" fill="#000"/>
<rect x="1231" y="334" width="5" height="30" fill="#000"/>
<rect x="1232" y="335" width="3" height="28" fill="#fff"/>
<rect x="1241" y="319" width="1" height="30" fill="#000"/>
<rect x="1239" y="334" width="5" height="1" fill="#000"/>
<rect x="1249" y="322" width="1" height="18" fill="#000"/>
<rect x="1247" y="324" width="5" height="3" fill="#000"/>
<rect x="1257" y="305" width="1" height="24" fill="#000"/>
<rect x="1255" y="325" width="5" height="1" fill="#000"/>
<rect x="1265" y="310" width="1" height="37" fill="#000"/>
<rect x="1263" y="324" width="5" height="10" fill="#000"/>
<rect x="1273" y="329" width="1" height="45" fill="#000"/>
<rect x="1271" y="332" width="5" height="39" fill="#000"/>
<rect x="1281" y="314" width="1" height="76" fill="#000"/>
<rect x="1279" y="316" width="5" height="55" fill="#000"/>
<rect x="1280" y="317" width="3" height="53" fill="#fff"/>
<rect x="1289" y="242" width="1" height="82" fill="#000"/>
<rect x="1287" y="257" width="5" height="60" fill="#000"/>
<rect x="1288" y="258" width="3" height="58" fill="#fff"/>
<rect x="1297" y="251" width="1" height="20" fill="#000"/>
<rect x="1295" y="256" width="5" height="3" fill="#000"/>
<rect x="1296" y="257" width="3" height="1" fill="#fff"/>
<rect x="1305" y="249" width="1" height="21" fill="#000"/>
<rect x="1303" y="253" width="5" height="9" fill="#000"/>
<rect x="1313" y="248" width="1" height="37" fill="#000"/>
<rect x="1311" y="261" width="5" height="5" fill="#000"/>
<rect x="1321" y="261" width="1" height="118" fill="#000"/>
<rect x="1319" y="264" width="5" height="111" fill="#000"/>
<rect x="1329" y="364" width="1" height="55" fill="#000"/>
<rect x="1327" y="374" width="5" height="24" fill="#000"/>
<rect x="1337" y="392" width="1" height="41" fill="#000"/>
<rect x="1335" y="393" width="5" height="7" fill="#000"/>
<rect x="1336" y="394" width="3" height="5" fill="#fff"/>
<rect x="1345" y="396" width="1" height="28" fill="#000"/>
<rect x="1343" y="398" width="5" height="5" fill="#000"/>
<rect x="1344" y="399" width="3" height="3" fill="#fff"/>
<rect x="1353" y="331" width="1" height="95" fill="#000"/>
<rect x="1351" y="332" width="5" height="65" fill="#000"/>
<rect x="1352" y="333" width="3" height="63" fill="#fff"/>
<rect x="1361" y="318" width="1" height="36" fill="#000"/>
<rect x="1359" y="331" width="5" height="23" fill="#000"/>
<rect x="1369" y="333" width="1" height="76" fill="#000"/>
<rect x="1367" y="354" width="5" height="11" fill="#000"/>
<rect x="1377" y="342" width="1" height="51" fill="#000"/>
<rect x="1375" y="363" width="5" height="13" fill="#000"/>
<rect x="1385" y="356" width="1" height="42" fill="#000"/>
<rect x="1383" y="372" width="5" height="5" fill="#000"/>
</g>
<g>
<line x1="1298.0" y1="250.5" x2="1353.4" y2="439.4" stroke="#f00" stroke-width="3.8" stroke-linecap="round"/><polygon points="1354.0,441.5 1346.1,432.4 1355.7,429.5" fill="#f00"/>
<line x1="1354.0" y1="440.0" x2="1365.8" y2="321.1" stroke="#f00" stroke-width="3.6" stroke-linecap="round"/><polygon points="1366.0,319.0 1370.0,331.5 1359.6,330.4" fill="#f00"/>
<line x1="1366.0" y1="321.0" x2="1402.1" y2="402.1" stroke="#f00" stroke-width="3.6" stroke-linecap="round"/><polygon points="1403.0,404.0 1394.0,396.0 1403.1,391.9" fill="#f00"/>
</g>
<rect x="1218.5" y="234.5" width="61" height="18" fill="#fff" stroke="#f00" stroke-width="1" shape-rendering="crispEdges"/>
<rect x="1280" y="243" width="9" height="1" fill="#f00" shape-rendering="crispEdges"/>
<text class="lbl" x="1220.5" y="250">27465.9</text>
<rect x="986.5" y="368.5" width="61" height="18" fill="#fff" stroke="#f00" stroke-width="1" shape-rendering="crispEdges"/>
<rect x="1048" y="377" width="10" height="1" fill="#f00" shape-rendering="crispEdges"/>
<text class="lbl" x="988.5" y="384">26829.6</text>
<rect x="1282.5" y="432.5" width="61" height="18" fill="#fff" stroke="#f00" stroke-width="1" shape-rendering="crispEdges"/>
<rect x="1344" y="441" width="9" height="1" fill="#f00" shape-rendering="crispEdges"/>
<text class="lbl" x="1284.5" y="448">26525.8</text>
<rect x="1345.5" y="439.5" width="2" height="3" fill="#fff" stroke="#f00" stroke-width="1"/>
<rect x="930.5" y="551.5" width="61" height="18" fill="#fff" stroke="#f00" stroke-width="1" shape-rendering="crispEdges"/>
<rect x="992" y="560" width="10" height="1" fill="#f00" shape-rendering="crispEdges"/>
<text class="lbl" x="932.5" y="567">25956.6</text>
<g clip-path="url(#cMacd)">
<g shape-rendering="crispEdges">
<rect x="1" y="607" width="1" height="57" fill="#c0c0c0"/>
<rect x="9" y="612" width="1" height="52" fill="#c0c0c0"/>
<rect x="17" y="610" width="1" height="54" fill="#c0c0c0"/>
<rect x="25" y="607" width="1" height="57" fill="#c0c0c0"/>
<rect x="33" y="604" width="1" height="60" fill="#c0c0c0"/>
<rect x="41" y="602" width="1" height="62" fill="#c0c0c0"/>
<rect x="49" y="601" width="1" height="63" fill="#c0c0c0"/>
<rect x="57" y="612" width="1" height="52" fill="#c0c0c0"/>
<rect x="65" y="619" width="1" height="45" fill="#c0c0c0"/>
<rect x="73" y="624" width="1" height="40" fill="#c0c0c0"/>
<rect x="81" y="632" width="1" height="32" fill="#c0c0c0"/>
<rect x="89" y="639" width="1" height="25" fill="#c0c0c0"/>
<rect x="97" y="646" width="1" height="18" fill="#c0c0c0"/>
<rect x="105" y="649" width="1" height="15" fill="#c0c0c0"/>
<rect x="113" y="652" width="1" height="12" fill="#c0c0c0"/>
<rect x="121" y="656" width="1" height="8" fill="#c0c0c0"/>
<rect x="129" y="662" width="1" height="2" fill="#c0c0c0"/>
<rect x="137" y="663" width="1" height="5" fill="#c0c0c0"/>
<rect x="145" y="663" width="1" height="10" fill="#c0c0c0"/>
<rect x="153" y="663" width="1" height="11" fill="#c0c0c0"/>
<rect x="161" y="663" width="1" height="10" fill="#c0c0c0"/>
<rect x="169" y="663" width="1" height="8" fill="#c0c0c0"/>
<rect x="177" y="663" width="1" height="9" fill="#c0c0c0"/>
<rect x="185" y="663" width="1" height="9" fill="#c0c0c0"/>
<rect x="193" y="663" width="1" height="10" fill="#c0c0c0"/>
<rect x="201" y="663" width="1" height="10" fill="#c0c0c0"/>
<rect x="209" y="663" width="1" height="10" fill="#c0c0c0"/>
<rect x="217" y="663" width="1" height="5" fill="#c0c0c0"/>
<rect x="225" y="663" width="1" height="1" fill="#c0c0c0"/>
<rect x="233" y="659" width="1" height="5" fill="#c0c0c0"/>
<rect x="241" y="656" width="1" height="8" fill="#c0c0c0"/>
<rect x="249" y="659" width="1" height="5" fill="#c0c0c0"/>
<rect x="257" y="662" width="1" height="2" fill="#c0c0c0"/>
<rect x="265" y="663" width="1" height="2" fill="#c0c0c0"/>
<rect x="273" y="663" width="1" height="7" fill="#c0c0c0"/>
<rect x="281" y="663" width="1" height="11" fill="#c0c0c0"/>
<rect x="289" y="663" width="1" height="17" fill="#c0c0c0"/>
<rect x="297" y="663" width="1" height="26" fill="#c0c0c0"/>
<rect x="305" y="663" width="1" height="33" fill="#c0c0c0"/>
<rect x="313" y="663" width="1" height="41" fill="#c0c0c0"/>
<rect x="321" y="663" width="1" height="47" fill="#c0c0c0"/>
<rect x="329" y="663" width="1" height="51" fill="#c0c0c0"/>
<rect x="337" y="663" width="1" height="57" fill="#c0c0c0"/>
<rect x="345" y="663" width="1" height="63" fill="#c0c0c0"/>
<rect x="353" y="663" width="1" height="63" fill="#c0c0c0"/>
<rect x="361" y="663" width="1" height="66" fill="#c0c0c0"/>
<rect x="369" y="663" width="1" height="62" fill="#c0c0c0"/>
<rect x="377" y="663" width="1" height="58" fill="#c0c0c0"/>
<rect x="385" y="663" width="1" height="56" fill="#c0c0c0"/>
<rect x="393" y="663" width="1" height="58" fill="#c0c0c0"/>
<rect x="401" y="663" width="1" height="54" fill="#c0c0c0"/>
<rect x="409" y="663" width="1" height="49" fill="#c0c0c0"/>
<rect x="417" y="663" width="1" height="48" fill="#c0c0c0"/>
<rect x="425" y="663" width="1" height="47" fill="#c0c0c0"/>
<rect x="433" y="663" width="1" height="47" fill="#c0c0c0"/>
<rect x="441" y="663" width="1" height="51" fill="#c0c0c0"/>
<rect x="449" y="663" width="1" height="49" fill="#c0c0c0"/>
<rect x="457" y="663" width="1" height="49" fill="#c0c0c0"/>
<rect x="465" y="663" width="1" height="48" fill="#c0c0c0"/>
<rect x="473" y="663" width="1" height="49" fill="#c0c0c0"/>
<rect x="481" y="663" width="1" height="55" fill="#c0c0c0"/>
<rect x="489" y="663" width="1" height="62" fill="#c0c0c0"/>
<rect x="497" y="663" width="1" height="65" fill="#c0c0c0"/>
<rect x="505" y="663" width="1" height="67" fill="#c0c0c0"/>
<rect x="513" y="663" width="1" height="70" fill="#c0c0c0"/>
<rect x="521" y="663" width="1" height="73" fill="#c0c0c0"/>
<rect x="529" y="663" width="1" height="72" fill="#c0c0c0"/>
<rect x="537" y="663" width="1" height="61" fill="#c0c0c0"/>
<rect x="545" y="663" width="1" height="53" fill="#c0c0c0"/>
<rect x="553" y="663" width="1" height="45" fill="#c0c0c0"/>
<rect x="561" y="663" width="1" height="35" fill="#c0c0c0"/>
<rect x="569" y="663" width="1" height="27" fill="#c0c0c0"/>
<rect x="577" y="663" width="1" height="21" fill="#c0c0c0"/>
<rect x="585" y="663" width="1" height="10" fill="#c0c0c0"/>
<rect x="593" y="663" width="1" height="2" fill="#c0c0c0"/>
<rect x="601" y="660" width="1" height="4" fill="#c0c0c0"/>
<rect x="609" y="660" width="1" height="4" fill="#c0c0c0"/>
<rect x="617" y="660" width="1" height="4" fill="#c0c0c0"/>
<rect x="625" y="661" width="1" height="3" fill="#c0c0c0"/>
<rect x="633" y="656" width="1" height="8" fill="#c0c0c0"/>
<rect x="641" y="653" width="1" height="11" fill="#c0c0c0"/>
<rect x="649" y="650" width="1" height="14" fill="#c0c0c0"/>
<rect x="657" y="650" width="1" height="14" fill="#c0c0c0"/>
<rect x="665" y="650" width="1" height="14" fill="#c0c0c0"/>
<rect x="673" y="656" width="1" height="8" fill="#c0c0c0"/>
<rect x="681" y="663" width="1" height="2" fill="#c0c0c0"/>
<rect x="689" y="663" width="1" height="3" fill="#c0c0c0"/>
<rect x="697" y="663" width="1" height="2" fill="#c0c0c0"/>
<rect x="705" y="663" width="1" height="2" fill="#c0c0c0"/>
<rect x="713" y="663" width="1" height="1" fill="#c0c0c0"/>
<rect x="721" y="660" width="1" height="4" fill="#c0c0c0"/>
<rect x="729" y="661" width="1" height="3" fill="#c0c0c0"/>
<rect x="737" y="661" width="1" height="3" fill="#c0c0c0"/>
<rect x="745" y="656" width="1" height="8" fill="#c0c0c0"/>
<rect x="753" y="652" width="1" height="12" fill="#c0c0c0"/>
<rect x="761" y="648" width="1" height="16" fill="#c0c0c0"/>
<rect x="769" y="644" width="1" height="20" fill="#c0c0c0"/>
<rect x="777" y="643" width="1" height="21" fill="#c0c0c0"/>
<rect x="785" y="640" width="1" height="24" fill="#c0c0c0"/>
<rect x="793" y="638" width="1" height="26" fill="#c0c0c0"/>
<rect x="801" y="641" width="1" height="23" fill="#c0c0c0"/>
<rect x="809" y="640" width="1" height="24" fill="#c0c0c0"/>
<rect x="817" y="639" width="1" height="25" fill="#c0c0c0"/>
<rect x="825" y="633" width="1" height="31" fill="#c0c0c0"/>
<rect x="833" y="623" width="1" height="41" fill="#c0c0c0"/>
<rect x="841" y="619" width="1" height="45" fill="#c0c0c0"/>
<rect x="849" y="625" width="1" height="39" fill="#c0c0c0"/>
<rect x="857" y="632" width="1" height="32" fill="#c0c0c0"/>
<rect x="865" y="639" width="1" height="25" fill="#c0c0c0"/>
<rect x="873" y="645" width="1" height="19" fill="#c0c0c0"/>
<rect x="881" y="650" width="1" height="14" fill="#c0c0c0"/>
<rect x="889" y="657" width="1" height="7" fill="#c0c0c0"/>
<rect x="897" y="663" width="1" height="3" fill="#c0c0c0"/>
<rect x="905" y="663" width="1" height="13" fill="#c0c0c0"/>
<rect x="913" y="663" width="1" height="23" fill="#c0c0c0"/>
<rect x="921" y="663" width="1" height="29" fill="#c0c0c0"/>
<rect x="929" y="663" width="1" height="38" fill="#c0c0c0"/>
<rect x="937" y="663" width="1" height="43" fill="#c0c0c0"/>
<rect x="945" y="663" width="1" height="41" fill="#c0c0c0"/>
<rect x="953" y="663" width="1" height="37" fill="#c0c0c0"/>
<rect x="961" y="663" width="1" height="34" fill="#c0c0c0"/>
<rect x="969" y="663" width="1" height="32" fill="#c0c0c0"/>
<rect x="977" y="663" width="1" height="36" fill="#c0c0c0"/>
<rect x="985" y="663" width="1" height="45" fill="#c0c0c0"/>
<rect x="993" y="663" width="1" height="53" fill="#c0c0c0"/>
<rect x="1001" y="663" width="1" height="65" fill="#c0c0c0"/>
<rect x="1009" y="663" width="1" height="69" fill="#c0c0c0"/>
<rect x="1017" y="663" width="1" height="68" fill="#c0c0c0"/>
<rect x="1025" y="663" width="1" height="60" fill="#c0c0c0"/>
<rect x="1033" y="663" width="1" height="57" fill="#c0c0c0"/>
<rect x="1041" y="663" width="1" height="53" fill="#c0c0c0"/>
<rect x="1049" y="663" width="1" height="49" fill="#c0c0c0"/>
<rect x="1057" y="663" width="1" height="46" fill="#c0c0c0"/>
<rect x="1065" y="663" width="1" height="37" fill="#c0c0c0"/>
<rect x="1073" y="663" width="1" height="21" fill="#c0c0c0"/>
<rect x="1081" y="663" width="1" height="10" fill="#c0c0c0"/>
<rect x="1089" y="656" width="1" height="8" fill="#c0c0c0"/>
<rect x="1097" y="643" width="1" height="21" fill="#c0c0c0"/>
<rect x="1105" y="636" width="1" height="28" fill="#c0c0c0"/>
<rect x="1113" y="626" width="1" height="38" fill="#c0c0c0"/>
<rect x="1121" y="621" width="1" height="43" fill="#c0c0c0"/>
<rect x="1129" y="620" width="1" height="44" fill="#c0c0c0"/>
<rect x="1137" y="627" width="1" height="37" fill="#c0c0c0"/>
<rect x="1145" y="635" width="1" height="29" fill="#c0c0c0"/>
<rect x="1153" y="643" width="1" height="21" fill="#c0c0c0"/>
<rect x="1161" y="647" width="1" height="17" fill="#c0c0c0"/>
<rect x="1169" y="651" width="1" height="13" fill="#c0c0c0"/>
<rect x="1177" y="655" width="1" height="9" fill="#c0c0c0"/>
<rect x="1185" y="661" width="1" height="3" fill="#c0c0c0"/>
<rect x="1193" y="660" width="1" height="4" fill="#c0c0c0"/>
<rect x="1201" y="661" width="1" height="3" fill="#c0c0c0"/>
<rect x="1209" y="658" width="1" height="6" fill="#c0c0c0"/>
<rect x="1217" y="659" width="1" height="5" fill="#c0c0c0"/>
<rect x="1225" y="658" width="1" height="6" fill="#c0c0c0"/>
<rect x="1233" y="654" width="1" height="10" fill="#c0c0c0"/>
<rect x="1241" y="651" width="1" height="13" fill="#c0c0c0"/>
<rect x="1249" y="648" width="1" height="16" fill="#c0c0c0"/>
<rect x="1257" y="646" width="1" height="18" fill="#c0c0c0"/>
<rect x="1265" y="645" width="1" height="19" fill="#c0c0c0"/>
<rect x="1273" y="649" width="1" height="15" fill="#c0c0c0"/>
<rect x="1281" y="646" width="1" height="18" fill="#c0c0c0"/>
<rect x="1289" y="637" width="1" height="27" fill="#c0c0c0"/>
<rect x="1297" y="630" width="1" height="34" fill="#c0c0c0"/>
<rect x="1305" y="625" width="1" height="39" fill="#c0c0c0"/>
<rect x="1313" y="623" width="1" height="41" fill="#c0c0c0"/>
<rect x="1321" y="634" width="1" height="30" fill="#c0c0c0"/>
<rect x="1329" y="646" width="1" height="18" fill="#c0c0c0"/>
<rect x="1337" y="655" width="1" height="9" fill="#c0c0c0"/>
<rect x="1345" y="662" width="1" height="2" fill="#c0c0c0"/>
<rect x="1353" y="661" width="1" height="3" fill="#c0c0c0"/>
<rect x="1361" y="662" width="1" height="2" fill="#c0c0c0"/>
<rect x="1369" y="662" width="1" height="2" fill="#c0c0c0"/>
<rect x="1377" y="663" width="1" height="1" fill="#c0c0c0"/>
<rect x="1385" y="663" width="1" height="5" fill="#c0c0c0"/>
<path d="M0 587.5h1M1 588.5h2M6 591.5h1M7 592.5h1M8 593.5h1M12 596.5h2M14 597.5h1M18 599.5h2M20 600.5h1M24 602.5h3M30 603.5h3M36 603.5h1M37 604.5h2M42 604.5h3M48 604.5h3M54 605.5h3M60 606.5h2M62 607.5h1M66 608.5h3M72 609.5h2M74 610.5h1M78 611.5h3M84 613.5h2M86 614.5h1M90 616.5h2M92 617.5h1M96 619.5h2M98 620.5h1M102 623.5h1M103 624.5h2M108 627.5h1M109 628.5h1M110 629.5h1M114 631.5h1M115 632.5h1M116 633.5h1M120 635.5h1M121 636.5h1M122 637.5h1M126 639.5h1M127 640.5h1M128 641.5h1M132 643.5h1M133 644.5h1M134 645.5h1M138 647.5h1M139 648.5h1M140 649.5h1M144 651.5h1M145 652.5h1M146 653.5h1M150 655.5h1M151 656.5h2M156 659.5h2M158 660.5h1M162 662.5h2M164 663.5h1M168 664.5h1M169 665.5h2M174 667.5h3M180 668.5h1M181 669.5h2M186 670.5h1M187 671.5h2M192 672.5h3M198 672.5h3M204 673.5h3M210 673.5h3M216 672.5h3M222 671.5h3M228 671.5h1M229 670.5h2M234 670.5h2M236 669.5h1M240 669.5h2M242 668.5h1M246 668.5h1M247 667.5h2M252 666.5h2M254 665.5h1M258 665.5h3M264 664.5h3M270 664.5h1M271 663.5h2M276 663.5h3M282 664.5h3M288 665.5h3M294 667.5h2M296 668.5h1M300 670.5h2M302 671.5h1M306 673.5h1M307 674.5h1M308 675.5h1M312 677.5h1M313 678.5h2M318 681.5h2M320 682.5h1M324 685.5h1M325 686.5h1M326 687.5h1M330 690.5h1M331 691.5h2M336 694.5h1M337 695.5h1M338 696.5h1M342 699.5h1M343 700.5h1M344 701.5h1M348 704.5h1M349 705.5h2M354 708.5h1M355 709.5h2M360 712.5h1M361 713.5h2M366 716.5h2M368 717.5h1M372 718.5h1M373 719.5h2M378 721.5h3M384 722.5h3M390 723.5h3M396 723.5h3M402 723.5h1M403 722.5h2M408 722.5h3M414 721.5h3M420 720.5h3M426 719.5h2M428 718.5h1M432 718.5h1M433 717.5h2M438 716.5h3M444 715.5h2M446 714.5h1M450 714.5h3M456 713.5h3M462 713.5h3M468 712.5h3M474 712.5h2M476 713.5h1M480 713.5h2M482 714.5h1M486 714.5h2M488 715.5h1M492 716.5h3M498 717.5h2M500 718.5h1M504 719.5h3M510 720.5h2M512 721.5h1M516 722.5h3M522 724.5h2M524 725.5h1M528 726.5h1M529 727.5h2M534 727.5h3M540 728.5h3M546 728.5h3M552 727.5h3M558 726.5h2M560 725.5h1M564 723.5h2M566 722.5h1M570 720.5h1M571 719.5h1M572 718.5h1M576 715.5h2M578 714.5h1M582 710.5h1M583 709.5h2M588 705.5h1M589 704.5h1M590 703.5h1M594 699.5h1M595 698.5h1M596 697.5h1M600 693.5h1M601 692.5h1M602 691.5h1M606 687.5h1M607 686.5h1M608 685.5h1M612 681.5h1M613 680.5h2M618 677.5h1M619 676.5h1M620 675.5h1M624 673.5h1M625 672.5h1M626 671.5h1M630 669.5h2M632 668.5h1M636 666.5h2M638 665.5h1M642 663.5h2M644 662.5h1M648 660.5h2M650 659.5h1M654 657.5h3M660 656.5h1M661 655.5h2M666 654.5h3M672 654.5h3M678 654.5h3M684 654.5h3M690 655.5h3M696 656.5h3M702 656.5h1M703 657.5h2M708 658.5h3M714 659.5h3M720 660.5h3M726 660.5h1M727 661.5h2M732 661.5h3M738 661.5h3M744 661.5h3M750 660.5h3M756 660.5h1M757 659.5h2M762 658.5h3M768 656.5h3M774 654.5h3M780 653.5h1M781 652.5h2M786 651.5h3M792 649.5h3M798 648.5h2M800 647.5h1M804 646.5h3M810 645.5h1M811 644.5h2M816 643.5h3M822 641.5h3M828 639.5h3M834 637.5h2M836 636.5h1M840 634.5h2M842 633.5h1M846 633.5h3M852 632.5h3M858 632.5h3M864 632.5h3M870 632.5h3M876 633.5h3M882 634.5h3M888 635.5h1M889 636.5h2M894 638.5h1M895 639.5h2M900 641.5h1M901 642.5h1M902 643.5h1M906 646.5h1M907 647.5h1M908 648.5h1M912 652.5h1M913 653.5h1M914 654.5h1M918 657.5h1M919 658.5h1M920 659.5h1M924 662.5h1M925 663.5h1M926 664.5h1M930 667.5h1M931 668.5h1M932 669.5h1M936 672.5h1M937 673.5h1M938 674.5h1M942 677.5h1M943 678.5h1M944 679.5h1M948 682.5h1M949 683.5h1M950 684.5h1M954 687.5h1M955 688.5h2M960 691.5h1M961 692.5h1M962 693.5h1M966 695.5h3M972 697.5h2M974 698.5h1M978 699.5h3M984 700.5h3M990 702.5h2M992 703.5h1M996 704.5h1M997 705.5h2M1002 707.5h2M1004 708.5h1M1008 709.5h1M1009 710.5h2M1014 712.5h3M1020 713.5h1M1021 714.5h2M1026 715.5h3M1032 717.5h3M1038 719.5h3M1044 721.5h3M1050 721.5h3M1056 721.5h2M1058 720.5h1M1062 720.5h2M1064 719.5h1M1068 718.5h1M1069 717.5h1M1070 716.5h1M1074 714.5h1M1075 713.5h1M1076 712.5h1M1080 709.5h1M1081 708.5h1M1082 707.5h1M1085 703.5h1M1086 702.5h1M1087 701.5h1M1091 697.5h1M1092 696.5h1M1093 695.5h1M1096 691.5h1M1097 690.5h1M1098 689.5h1M1101 685.5h1M1102 684.5h1M1103 683.5h1M1106 679.5h1M1107 678.5h1M1108 677.5h1M1111 673.5h1M1112 672.5h1M1113 671.5h1M1116.5 666v2M1117 665.5h1M1120 661.5h1M1121.5 659v2M1125 655.5h1M1126 654.5h1M1127 653.5h1M1130 649.5h1M1131 648.5h1M1132 647.5h1M1136 643.5h2M1138 642.5h1M1142 638.5h2M1144 637.5h1M1148 636.5h1M1149 635.5h2M1154 634.5h1M1155 633.5h2M1160 632.5h3M1166 633.5h3M1172 634.5h1M1173 635.5h2M1178 636.5h1M1179 637.5h2M1184 639.5h1M1185 640.5h2M1190 642.5h1M1191 643.5h2M1196 646.5h2M1198 647.5h1M1202 649.5h2M1204 650.5h1M1208 651.5h1M1209 652.5h2M1214 653.5h1M1215 654.5h2M1220 655.5h3M1226 656.5h3M1232 657.5h3M1238 658.5h3M1244 657.5h1M1245 656.5h2M1250 655.5h3M1256 654.5h3M1262 653.5h3M1268 652.5h3M1274 651.5h3M1280 650.5h2M1282 649.5h1M1286 648.5h3M1292 646.5h2M1294 645.5h1M1298 644.5h1M1299 643.5h2M1304 641.5h2M1306 640.5h1M1310 639.5h1M1311 638.5h2M1316 637.5h3M1322 636.5h3M1328 636.5h1M1329 637.5h2M1334 637.5h3M1340 638.5h3M1346 639.5h2M1348 640.5h1M1352 640.5h1M1353 641.5h2M1358 642.5h1M1359 643.5h2M1364 644.5h1M1365 645.5h2M1370 647.5h1M1371 648.5h2M1376 651.5h2M1378 652.5h1M1382 655.5h1M1383 656.5h1M1384 657.5h1" fill="none" stroke="#ff0000" stroke-width="1"/>
</g>
<line x1="1326.0" y1="637.0" x2="1392.2" y2="675.9" stroke="#f00" stroke-width="3.6" stroke-linecap="round"/><polygon points="1394.0,677.0 1381.1,675.2 1386.2,666.6" fill="#f00"/>
</g>
<g clip-path="url(#cRsi)">
<g shape-rendering="crispEdges">
<line x1="0" y1="783.5" x2="1652" y2="783.5" stroke="#c0c0c0" stroke-width="1" stroke-dasharray="3 3"/>
<line x1="0" y1="834.5" x2="1652" y2="834.5" stroke="#c0c0c0" stroke-width="1" stroke-dasharray="3 3"/>
<line x1="0" y1="895.5" x2="1652" y2="895.5" stroke="#c0c0c0" stroke-width="1" stroke-dasharray="3 3"/>
<path d="M-7 814.5h1M-6 815.5h2M-4 816.5h2M-2 817.5h1M-1 818.5h2M1 819.5h1M2 820.5h1M3 821.5h1M4 822.5h2M6 823.5h1M7 824.5h1M8 825.5h1M9.5 825v2M10.5 823v2M11.5 821v2M12.5 819v2M13.5 817v2M14.5 815v2M15.5 813v2M16.5 811v2M17 810.5h3M20 809.5h4M24 808.5h3M27 807.5h3M30 806.5h2M32 805.5h6M38 804.5h8M46 805.5h4M49.5 806v2M50.5 808v4M51.5 812v4M52.5 816v4M53.5 820v4M54.5 824v4M55.5 828v4M56.5 832v4M57.5 836v2M58 836.5h2M60 835.5h2M62 834.5h1M63 833.5h2M65 832.5h2M67 831.5h2M69 830.5h2M71 829.5h2M73 828.5h1M74.5 829v2M75 831.5h1M76 832.5h1M77.5 833v2M78 835.5h1M79 836.5h1M80.5 837v2M81 839.5h5M86 838.5h5M91 839.5h2M93 840.5h2M95 841.5h2M97 842.5h1M98 841.5h1M99 840.5h1M100 839.5h1M101 838.5h1M102 837.5h1M103 836.5h1M104 835.5h1M105 834.5h3M108 835.5h4M112 836.5h3M115 837.5h2M117 838.5h2M119 839.5h2M121 840.5h1M122 841.5h2M124 842.5h1M125 843.5h1M126 844.5h2M128 845.5h1M129 846.5h2M131 847.5h2M133 848.5h2M135 849.5h2M137 850.5h3M140 849.5h4M144 848.5h2M146 847.5h1M147 846.5h1M148 845.5h1M149 844.5h1M150 843.5h1M151 842.5h1M152 841.5h1M153 840.5h2M155 839.5h3M158 838.5h2M160 837.5h3M163 836.5h2M165 835.5h2M167 834.5h2M169 833.5h1M170 834.5h2M172 835.5h1M173 836.5h1M174 837.5h2M176 838.5h1M177 839.5h5M182 840.5h5M187 841.5h2M189 842.5h2M191 843.5h2M193 844.5h2M195 843.5h3M198 842.5h2M200 841.5h3M203 840.5h2M205 839.5h2M207 838.5h2M209 837.5h1M210.5 835v2M211.5 833v2M212 832.5h1M213.5 830v2M214 829.5h1M215.5 827v2M216.5 825v2M217 824.5h1M218 823.5h2M220 822.5h2M222 821.5h1M223 820.5h2M225 819.5h3M228 820.5h4M232 821.5h4M236 822.5h4M240 823.5h2M241 824.5h1M242.5 825v2M243.5 827v2M244.5 829v2M245.5 831v2M246.5 833v2M247.5 835v2M248.5 837v2M249.5 839v2M250 840.5h8M258 841.5h1M259 842.5h1M260 843.5h1M261 844.5h1M262 845.5h1M263 846.5h1M264 847.5h1M265 848.5h2M267 849.5h3M270 850.5h2M272 851.5h3M275 852.5h3M278 853.5h2M280 854.5h4M284 855.5h4M288 856.5h2M290.5 857v2M291 859.5h1M292.5 860v2M293 862.5h1M294.5 863v2M295 865.5h1M296.5 866v2M297 868.5h3M300 869.5h4M304 870.5h2M306 871.5h2M308 872.5h1M309 873.5h1M310 874.5h2M312 875.5h1M313 876.5h1M314 875.5h1M315 874.5h1M316 873.5h1M317.5 871v2M318 870.5h1M319 869.5h1M320 868.5h1M321 867.5h3M324 868.5h4M328 869.5h2M330 870.5h2M332 871.5h1M333 872.5h1M334 873.5h2M336 874.5h1M337 875.5h2M339 876.5h2M341 877.5h2M343 878.5h2M345.5 878v2M346.5 876v2M347.5 873v3M348.5 870v3M349.5 868v2M350.5 865v3M351.5 862v3M352.5 860v2M353.5 858v2M354 859.5h2M356 860.5h1M357 861.5h1M358 862.5h2M360 863.5h1M361 864.5h1M362.5 862v2M363.5 860v2M364.5 858v2M365.5 856v2M366.5 854v2M367.5 852v2M368.5 850v2M369 849.5h2M371 850.5h2M373 851.5h2M375 852.5h2M377 853.5h1M378 852.5h2M380 851.5h2M382 850.5h1M383 849.5h2M385 848.5h1M386 849.5h1M387.5 850v2M388 852.5h1M389 853.5h1M390 854.5h1M391.5 855v2M392 857.5h1M393 858.5h1M394.5 856v2M395 855.5h1M396.5 853v2M397 852.5h1M398.5 850v2M399 849.5h1M400.5 847v2M401 846.5h3M404 845.5h4M408 844.5h3M411 845.5h3M414 846.5h2M416 847.5h3M419 848.5h3M422 849.5h2M424 850.5h2M426 851.5h2M428 852.5h2M430 853.5h1M431 854.5h2M433 855.5h1M434 856.5h2M436 857.5h1M437 858.5h1M438 859.5h2M440 860.5h1M441 861.5h1M442.5 859v2M443.5 857v2M444 856.5h1M445.5 854v2M446 853.5h1M447.5 851v2M448.5 849v2M449 848.5h2M451 849.5h2M453 850.5h2M455 851.5h2M457 852.5h3M460 851.5h4M464 850.5h2M466 851.5h1M467 852.5h1M468 853.5h1M469.5 854v2M470 856.5h1M471 857.5h1M472 858.5h1M473 859.5h1M474 860.5h2M476 861.5h2M478 862.5h1M479 863.5h2M481 864.5h1M482 865.5h2M484 866.5h1M485 867.5h1M486 868.5h2M488 869.5h1M489 870.5h1M490 869.5h1M491 868.5h1M492 867.5h1M493 866.5h1M494 865.5h1M495 864.5h1M496 863.5h1M497 862.5h5M502 863.5h4M506 864.5h2M508 865.5h2M510 866.5h1M511 867.5h2M513 868.5h3M516 869.5h4M520 870.5h2M522 869.5h1M523 868.5h1M524 867.5h1M525 866.5h1M526 865.5h1M527 864.5h1M528 863.5h1M529.5 861v2M530.5 858v3M531.5 854v4M532.5 851v3M533.5 848v3M534.5 845v3M535.5 841v4M536.5 838v3M537.5 836v2M538 836.5h1M539 837.5h3M542 838.5h2M544 839.5h2M546 838.5h2M548 837.5h2M550 836.5h1M551 835.5h2M553 834.5h2M555 833.5h2M557 832.5h2M559 831.5h2M561 830.5h3M564 829.5h4M568 828.5h4M572 829.5h4M576 830.5h2M578.5 828v2M579 827.5h1M580.5 825v2M581 824.5h1M582.5 822v2M583 821.5h1M584.5 819v2M585 818.5h5M590 817.5h5M595 818.5h2M597 819.5h2M599 820.5h2M601 821.5h1M602 822.5h1M603.5 823v2M604 825.5h1M605 826.5h1M606 827.5h1M607.5 828v2M608 830.5h1M609 831.5h3M612 832.5h4M616 833.5h2M618 834.5h2M620 835.5h2M622 836.5h1M623 837.5h2M625.5 837v2M626.5 835v2M627.5 833v2M628.5 831v2M629.5 829v2M630.5 827v2M631.5 825v2M632.5 823v2M633 822.5h3M636 823.5h4M640 824.5h10M650 825.5h2M652 826.5h1M653 827.5h1M654 828.5h2M656 829.5h1M657 830.5h3M660 829.5h4M664 828.5h2M665 829.5h1M666.5 830v2M667.5 832v2M668.5 834v2M669.5 836v3M670.5 839v2M671.5 841v2M672.5 843v2M673.5 845v2M674 846.5h1M675 847.5h2M677 848.5h2M679 849.5h2M681 850.5h2M683 849.5h2M685 848.5h2M687 847.5h2M689 846.5h1M690.5 844v2M691 843.5h1M692 842.5h1M693.5 840v2M694 839.5h1M695 838.5h1M696.5 836v2M697 835.5h1M698 834.5h2M700 833.5h2M702 832.5h1M703 831.5h2M705 830.5h3M708 831.5h4M712 832.5h2M714 831.5h1M715 830.5h1M716 829.5h1M717 828.5h1M718 827.5h1M719 826.5h1M720 825.5h1M721 824.5h1M722 825.5h1M723 826.5h1M724 827.5h1M725.5 828v2M726 830.5h1M727 831.5h1M728 832.5h1M729 833.5h2M731 834.5h3M734 835.5h2M736 836.5h2M738.5 834v2M739.5 832v2M740.5 830v2M741 829.5h1M742.5 827v2M743.5 825v2M744.5 823v2M745 822.5h10M755 821.5h2M757 820.5h2M759 819.5h2M761 818.5h3M764 817.5h4M768 816.5h2M770 817.5h1M771 818.5h1M772 819.5h2M774 820.5h1M775 821.5h1M776 822.5h1M777 823.5h1M778 822.5h2M780 821.5h2M782 820.5h1M783 819.5h2M785 818.5h3M788 817.5h4M792 816.5h2M793 817.5h1M794.5 818v2M795.5 820v2M796.5 822v2M797.5 824v2M798.5 826v2M799.5 828v2M800.5 830v2M801 832.5h1M802 831.5h1M803 830.5h1M804 829.5h1M805.5 827v2M806 826.5h1M807 825.5h1M808 824.5h1M809 823.5h3M812 822.5h4M816 821.5h2M818.5 819v2M819 818.5h1M820 817.5h1M821.5 815v2M822 814.5h1M823 813.5h1M824.5 811v2M825 810.5h1M826 809.5h1M827.5 807v2M828 806.5h1M829 805.5h1M830 804.5h1M831.5 802v2M832 801.5h1M833 800.5h1M834 801.5h1M835 802.5h1M836 803.5h1M837 804.5h1M838 805.5h1M839 806.5h1M840 807.5h1M841.5 808v2M842.5 810v3M843.5 813v3M844.5 816v3M845.5 819v4M846.5 823v3M847.5 826v3M848.5 829v3M849.5 832v2M850 833.5h1M851 834.5h3M854 835.5h2M856 836.5h4M860 837.5h4M864 838.5h3M867 839.5h3M870 840.5h2M872 841.5h3M875 840.5h3M878 839.5h2M880 838.5h2M882 839.5h1M883 840.5h1M884 841.5h1M885 842.5h1M886 843.5h1M887 844.5h1M888 845.5h1M889 846.5h1M890 847.5h1M891 848.5h1M892 849.5h1M893.5 850v2M894 852.5h1M895 853.5h1M896 854.5h1M897 855.5h3M900 856.5h4M904 857.5h2M906 858.5h2M908 859.5h2M910 860.5h1M911 861.5h2M913 862.5h2M915 861.5h2M917 860.5h2M919 859.5h2M921 858.5h1M922 859.5h1M923 860.5h1M924 861.5h1M925 862.5h1M926 863.5h1M927 864.5h1M928 865.5h1M929 866.5h1M930 865.5h1M931 864.5h1M932 863.5h2M934 862.5h1M935 861.5h1M936 860.5h1M937 859.5h1M938.5 857v2M939.5 855v2M940.5 853v2M941.5 851v2M942.5 849v2M943.5 847v2M944.5 845v2M945 844.5h2M947 843.5h2M949 842.5h2M951 841.5h2M953 840.5h3M956 841.5h4M960 842.5h4M964 843.5h4M968 844.5h2M970.5 845v2M971 847.5h1M972 848.5h1M973.5 849v2M974 851.5h1M975 852.5h1M976.5 853v2M977 855.5h1M978.5 856v2M979 858.5h1M980 859.5h1M981.5 860v2M982 862.5h1M983 863.5h1M984.5 864v2M985 866.5h3M988 867.5h4M992 868.5h2M994 869.5h2M996 870.5h1M997 871.5h1M998 872.5h2M1000 873.5h1M1001 874.5h1M1002 873.5h1M1003.5 871v2M1004 870.5h1M1005 869.5h1M1006 868.5h1M1007.5 866v2M1008 865.5h1M1009 864.5h1M1010.5 862v2M1011 861.5h1M1012.5 859v2M1013 858.5h1M1014.5 856v2M1015 855.5h1M1016.5 853v2M1017 852.5h1M1018.5 850v2M1019 849.5h1M1020.5 847v2M1021 846.5h1M1022.5 844v2M1023 843.5h1M1024.5 841v2M1025 840.5h1M1026 841.5h1M1027 842.5h1M1028 843.5h1M1029 844.5h1M1030 845.5h1M1031 846.5h1M1032 847.5h1M1033 848.5h1M1034 847.5h2M1036 846.5h2M1038 845.5h1M1039 844.5h2M1041 843.5h5M1046 842.5h5M1051 843.5h2M1053 844.5h2M1055 845.5h2M1057 846.5h1M1058.5 844v2M1059.5 842v2M1060.5 840v2M1061 839.5h1M1062.5 837v2M1063.5 835v2M1064.5 833v2M1065 832.5h1M1066.5 830v2M1067.5 828v2M1068.5 826v2M1069 825.5h1M1070.5 823v2M1071.5 821v2M1072.5 819v2M1073 818.5h2M1075 819.5h2M1077 820.5h2M1079 821.5h2M1081 822.5h1M1082.5 820v2M1083.5 818v2M1084 817.5h1M1085.5 815v2M1086 814.5h1M1087.5 812v2M1088.5 810v2M1089 809.5h2M1091 810.5h2M1093 811.5h2M1095 812.5h2M1097 813.5h1M1098 814.5h2M1100 815.5h2M1102 816.5h1M1103 817.5h2M1105 818.5h1M1106 817.5h1M1107 816.5h1M1108 815.5h2M1110 814.5h1M1111 813.5h1M1112 812.5h1M1113 811.5h1M1114 812.5h2M1116 813.5h1M1117 814.5h1M1118 815.5h2M1120 816.5h1M1121 817.5h2M1123 818.5h2M1125 819.5h2M1127 820.5h2M1129 821.5h1M1130.5 822v2M1131.5 824v2M1132 826.5h1M1133.5 827v2M1134 829.5h1M1135.5 830v2M1136.5 832v2M1137 834.5h2M1139 835.5h2M1141 836.5h2M1143 837.5h2M1145 838.5h2M1147 839.5h3M1150 840.5h2M1152 841.5h3M1155 840.5h3M1158 839.5h2M1160 838.5h6M1166 837.5h6M1172 838.5h4M1176 839.5h2M1178 840.5h2M1180 841.5h2M1182 842.5h1M1183 843.5h2M1185 844.5h1M1186.5 842v2M1187 841.5h1M1188 840.5h1M1189.5 838v2M1190 837.5h1M1191 836.5h1M1192.5 834v2M1193 833.5h2M1195 834.5h3M1198 835.5h2M1200 836.5h2M1202 835.5h1M1203 834.5h1M1204 833.5h1M1205 832.5h1M1206 831.5h1M1207 830.5h1M1208 829.5h1M1209 828.5h1M1210 829.5h1M1211 830.5h1M1212 831.5h2M1214 832.5h1M1215 833.5h1M1216 834.5h1M1217 835.5h2M1219 834.5h2M1221 833.5h2M1223 832.5h2M1225 831.5h1M1226 830.5h2M1228 829.5h2M1230 828.5h1M1231 827.5h2M1233 826.5h3M1236 825.5h4M1240 824.5h6M1246 823.5h8M1254 822.5h5M1259 823.5h2M1261 824.5h2M1263 825.5h2M1265 826.5h1M1266.5 827v2M1267 829.5h1M1268 830.5h1M1269.5 831v2M1270 833.5h1M1271 834.5h1M1272.5 835v2M1273 837.5h1M1274.5 835v2M1275.5 833v2M1276 832.5h1M1277.5 830v2M1278 829.5h1M1279.5 827v2M1280.5 825v2M1281 824.5h1M1282.5 822v2M1283.5 820v2M1284 819.5h1M1285.5 817v2M1286 816.5h1M1287.5 814v2M1288.5 812v2M1289 811.5h13M1302 812.5h8M1310 813.5h4M1313 814.5h1M1314.5 815v4M1315.5 819v4M1316.5 823v4M1317.5 827v3M1318.5 830v4M1319.5 834v4M1320.5 838v4M1321.5 842v2M1322 844.5h2M1324 845.5h2M1326 846.5h1M1327 847.5h2M1329 848.5h5M1334 847.5h8M1342 848.5h4M1345 847.5h1M1346.5 845v2M1347.5 843v2M1348.5 841v2M1349.5 839v2M1350.5 837v2M1351.5 835v2M1352.5 833v2M1353 832.5h2M1355 833.5h2M1357 834.5h2M1359 835.5h2M1361 836.5h2M1363 837.5h3M1366 838.5h2M1368 839.5h4M1372 840.5h4M1376 841.5h10" fill="none" stroke="#1e90ff" stroke-width="1"/>
</g>
<line x1="1308.0" y1="825.0" x2="1380.0" y2="851.3" stroke="#f00" stroke-width="3.6" stroke-linecap="round"/><polygon points="1382.0,852.0 1369.0,852.6 1372.4,843.2" fill="#f00"/>
</g>
<g shape-rendering="crispEdges" fill="#000">
<rect x="0" y="20" width="1653" height="1"/>
<rect x="1652" y="20" width="1" height="902"/>
<rect x="0" y="573" width="1653" height="1"/>
<rect x="0" y="575" width="1653" height="1"/>
<rect x="0" y="745" width="1653" height="1"/>
<rect x="0" y="747" width="1653" height="1"/>
<rect x="0" y="921" width="1653" height="1"/>
<rect x="1653" y="42" width="2" height="1"/>
<rect x="1653" y="75" width="2" height="1"/>
<rect x="1653" y="108" width="2" height="1"/>
<rect x="1653" y="141" width="2" height="1"/>
<rect x="1653" y="174" width="2" height="1"/>
<rect x="1653" y="207" width="2" height="1"/>
<rect x="1653" y="240" width="2" height="1"/>
<rect x="1653" y="273" width="2" height="1"/>
<rect x="1653" y="306" width="2" height="1"/>
<rect x="1653" y="339" width="2" height="1"/>
<rect x="1653" y="372" width="2" height="1"/>
<rect x="1653" y="405" width="2" height="1"/>
<rect x="1653" y="438" width="2" height="1"/>
<rect x="1653" y="471" width="2" height="1"/>
<rect x="1653" y="504" width="2" height="1"/>
<rect x="1653" y="537" width="2" height="1"/>
<rect x="1653" y="570" width="2" height="1"/>
<rect x="1653" y="576" width="2" height="1"/>
<rect x="1653" y="663" width="2" height="1"/>
<rect x="1653" y="744" width="2" height="1"/>
<rect x="1653" y="748" width="2" height="1"/>
<rect x="1653" y="920" width="2" height="1"/>
<rect x="57" y="922" width="1" height="3"/>
<rect x="121" y="922" width="1" height="3"/>
<rect x="185" y="922" width="1" height="3"/>
<rect x="249" y="922" width="1" height="3"/>
<rect x="313" y="922" width="1" height="3"/>
<rect x="377" y="922" width="1" height="3"/>
<rect x="441" y="922" width="1" height="3"/>
<rect x="505" y="922" width="1" height="3"/>
<rect x="569" y="922" width="1" height="3"/>
<rect x="633" y="922" width="1" height="3"/>
<rect x="697" y="922" width="1" height="3"/>
<rect x="761" y="922" width="1" height="3"/>
<rect x="825" y="922" width="1" height="3"/>
<rect x="889" y="922" width="1" height="3"/>
<rect x="953" y="922" width="1" height="3"/>
<rect x="1017" y="922" width="1" height="3"/>
<rect x="1081" y="922" width="1" height="3"/>
<rect x="1145" y="922" width="1" height="3"/>
<rect x="1209" y="922" width="1" height="3"/>
<rect x="1273" y="922" width="1" height="3"/>
<rect x="1337" y="922" width="1" height="3"/>
</g>
<text class="ax" x="1658.3" y="46" textLength="32.9" lengthAdjust="spacingAndGlyphs" xml:space="preserve">28423.5</text>
<text class="ax" x="1658.3" y="79" textLength="32.9" lengthAdjust="spacingAndGlyphs" xml:space="preserve">28266.0</text>
<text class="ax" x="1658.3" y="112" textLength="32.9" lengthAdjust="spacingAndGlyphs" xml:space="preserve">28108.5</text>
<text class="ax" x="1658.3" y="145" textLength="32.9" lengthAdjust="spacingAndGlyphs" xml:space="preserve">27951.0</text>
<text class="ax" x="1658.3" y="178" textLength="32.9" lengthAdjust="spacingAndGlyphs" xml:space="preserve">27793.5</text>
<text class="ax" x="1658.3" y="211" textLength="32.9" lengthAdjust="spacingAndGlyphs" xml:space="preserve">27636.0</text>
<text class="ax" x="1658.3" y="244" textLength="32.9" lengthAdjust="spacingAndGlyphs" xml:space="preserve">27478.5</text>
<text class="ax" x="1658.3" y="277" textLength="32.9" lengthAdjust="spacingAndGlyphs" xml:space="preserve">27325.5</text>
<text class="ax" x="1658.3" y="310" textLength="32.9" lengthAdjust="spacingAndGlyphs" xml:space="preserve">27168.0</text>
<text class="ax" x="1658.3" y="343" textLength="32.9" lengthAdjust="spacingAndGlyphs" xml:space="preserve">27010.5</text>
<text class="ax" x="1658.3" y="376" textLength="32.9" lengthAdjust="spacingAndGlyphs" xml:space="preserve">26853.0</text>
<text class="ax" x="1658.3" y="409" textLength="32.9" lengthAdjust="spacingAndGlyphs" xml:space="preserve">26695.5</text>
<text class="ax" x="1658.3" y="442" textLength="32.9" lengthAdjust="spacingAndGlyphs" xml:space="preserve">26538.0</text>
<text class="ax" x="1658.3" y="475" textLength="32.9" lengthAdjust="spacingAndGlyphs" xml:space="preserve">26380.5</text>
<text class="ax" x="1658.3" y="508" textLength="32.9" lengthAdjust="spacingAndGlyphs" xml:space="preserve">26223.0</text>
<text class="ax" x="1658.3" y="541" textLength="32.9" lengthAdjust="spacingAndGlyphs" xml:space="preserve">26065.5</text>
<text class="ax" x="1658.3" y="574" textLength="32.9" lengthAdjust="spacingAndGlyphs" xml:space="preserve">25912.5</text>
<rect x="1654" y="292" width="41" height="11" fill="#ff0000" shape-rendering="crispEdges"/>
<text class="tag" x="1658.3" y="301" textLength="32.9" lengthAdjust="spacingAndGlyphs" xml:space="preserve">27204.8</text>
<rect x="1654" y="330" width="41" height="11" fill="#ff0000" shape-rendering="crispEdges"/>
<text class="tag" x="1658.3" y="339" textLength="32.9" lengthAdjust="spacingAndGlyphs" xml:space="preserve">27024.3</text>
<rect x="1654" y="371" width="41" height="11" fill="#32cd32" shape-rendering="crispEdges"/>
<text class="tag" x="1658.3" y="380" textLength="32.9" lengthAdjust="spacingAndGlyphs" xml:space="preserve">26829.6</text>
<rect x="1654" y="419" width="41" height="11" fill="#0000ff" shape-rendering="crispEdges"/>
<text class="tag" x="1658.3" y="428" textLength="32.9" lengthAdjust="spacingAndGlyphs" xml:space="preserve">26601.7</text>
<rect x="1654" y="457" width="41" height="11" fill="#0000ff" shape-rendering="crispEdges"/>
<text class="tag" x="1658.3" y="466" textLength="32.9" lengthAdjust="spacingAndGlyphs" xml:space="preserve">26421.3</text>
<text class="ax" x="1655.3" y="586" textLength="27.9" lengthAdjust="spacingAndGlyphs" xml:space="preserve">282.62</text>
<text class="ax" x="1655.3" y="667" textLength="17.9" lengthAdjust="spacingAndGlyphs" xml:space="preserve">0.00</text>
<text class="ax" x="1655.3" y="742" textLength="31.2" lengthAdjust="spacingAndGlyphs" xml:space="preserve">-268.41</text>
<text class="ax" x="1655.3" y="758" textLength="15.1" lengthAdjust="spacingAndGlyphs" xml:space="preserve">100</text>
<text class="ax" x="1655.3" y="787" textLength="10.0" lengthAdjust="spacingAndGlyphs" xml:space="preserve">80</text>
<text class="ax" x="1655.3" y="838" textLength="10.0" lengthAdjust="spacingAndGlyphs" xml:space="preserve">50</text>
<text class="ax" x="1655.3" y="899" textLength="10.0" lengthAdjust="spacingAndGlyphs" xml:space="preserve">15</text>
<text class="ax" x="1655.3" y="918" textLength="5.0" lengthAdjust="spacingAndGlyphs" xml:space="preserve">0</text>
<polygon points="0,27 0,31 4,31" fill="#000"/>
<text class="ttl" x="7.6" y="32" textLength="197.0" lengthAdjust="spacingAndGlyphs" xml:space="preserve">JPN225-,H4  26852.5 26927.5 26735.0 26835.0</text>
<text class="ttl" x="-2.5" y="588" textLength="119.3" lengthAdjust="spacingAndGlyphs" xml:space="preserve">MACD(12,26,9) -19.03 19.54</text>
<text class="ttl" x="-2.5" y="760" textLength="67.2" lengthAdjust="spacingAndGlyphs" xml:space="preserve">RSI(14) 46.1312</text>
<text class="tm" x="-7.8" y="934" textLength="51.1" lengthAdjust="spacingAndGlyphs" xml:space="preserve">28 Mar 2022</text>
<text class="tm" x="56.2" y="934" textLength="54.4" lengthAdjust="spacingAndGlyphs" xml:space="preserve">30 Mar 00:00</text>
<text class="tm" x="120.2" y="934" textLength="54.4" lengthAdjust="spacingAndGlyphs" xml:space="preserve">31 Mar 10:55</text>
<text class="tm" x="184.2" y="934" textLength="48.0" lengthAdjust="spacingAndGlyphs" xml:space="preserve">1 Apr 18:55</text>
<text class="tm" x="248.2" y="934" textLength="48.0" lengthAdjust="spacingAndGlyphs" xml:space="preserve">5 Apr 00:00</text>
<text class="tm" x="312.2" y="934" textLength="48.0" lengthAdjust="spacingAndGlyphs" xml:space="preserve">6 Apr 10:55</text>
<text class="tm" x="376.2" y="934" textLength="48.0" lengthAdjust="spacingAndGlyphs" xml:space="preserve">7 Apr 18:55</text>
<text class="tm" x="440.2" y="934" textLength="53.0" lengthAdjust="spacingAndGlyphs" xml:space="preserve">11 Apr 00:00</text>
<text class="tm" x="504.2" y="934" textLength="53.0" lengthAdjust="spacingAndGlyphs" xml:space="preserve">12 Apr 10:55</text>
<text class="tm" x="568.2" y="934" textLength="53.0" lengthAdjust="spacingAndGlyphs" xml:space="preserve">13 Apr 18:55</text>
<text class="tm" x="632.2" y="934" textLength="53.0" lengthAdjust="spacingAndGlyphs" xml:space="preserve">15 Apr 00:00</text>
<text class="tm" x="696.2" y="934" textLength="53.0" lengthAdjust="spacingAndGlyphs" xml:space="preserve">18 Apr 10:55</text>
<text class="tm" x="760.2" y="934" textLength="53.0" lengthAdjust="spacingAndGlyphs" xml:space="preserve">19 Apr 18:55</text>
<text class="tm" x="824.2" y="934" textLength="53.0" lengthAdjust="spacingAndGlyphs" xml:space="preserve">21 Apr 00:00</text>
<text class="tm" x="888.2" y="934" textLength="53.0" lengthAdjust="spacingAndGlyphs" xml:space="preserve">22 Apr 10:55</text>
<text class="tm" x="952.2" y="934" textLength="53.0" lengthAdjust="spacingAndGlyphs" xml:space="preserve">25 Apr 18:55</text>
<text class="tm" x="1016.2" y="934" textLength="53.0" lengthAdjust="spacingAndGlyphs" xml:space="preserve">27 Apr 00:00</text>
<text class="tm" x="1080.2" y="934" textLength="53.0" lengthAdjust="spacingAndGlyphs" xml:space="preserve">28 Apr 10:55</text>
<text class="tm" x="1144.2" y="934" textLength="53.0" lengthAdjust="spacingAndGlyphs" xml:space="preserve">29 Apr 18:55</text>
<text class="tm" x="1208.2" y="934" textLength="50.6" lengthAdjust="spacingAndGlyphs" xml:space="preserve">3 May 00:00</text>
<text class="tm" x="1272.2" y="934" textLength="50.6" lengthAdjust="spacingAndGlyphs" xml:space="preserve">4 May 10:55</text>
<text class="tm" x="1336.2" y="934" textLength="50.6" lengthAdjust="spacingAndGlyphs" xml:space="preserve">5 May 18:55</text>
<rect x="1397" y="21" width="9" height="1" fill="#c0c0c0" shape-rendering="crispEdges"/>
<rect x="1398" y="22" width="7" height="1" fill="#c0c0c0" shape-rendering="crispEdges"/>
<rect x="1399" y="23" width="5" height="1" fill="#c0c0c0" shape-rendering="crispEdges"/>
<rect x="1400" y="24" width="3" height="1" fill="#c0c0c0" shape-rendering="crispEdges"/>
<rect x="1401" y="25" width="1" height="1" fill="#c0c0c0" shape-rendering="crispEdges"/>
<g>
<rect x="0" y="38" width="217" height="61" fill="#fff"/>
<rect x="0" y="40" width="48" height="25" fill="url(#gSell)"/>
<rect x="163" y="40" width="52" height="25" fill="url(#gSell)"/>
<rect x="0" y="40" width="48" height="1" fill="#c81010"/>
<rect x="163" y="40" width="52" height="1" fill="#c81010"/>
<rect x="47" y="40" width="1" height="25" fill="#c81010"/>
<rect x="163" y="40" width="1" height="25" fill="#c81010"/>
<rect x="214" y="40" width="1" height="57" fill="#b80808"/>
<rect x="0" y="64" width="105" height="33" fill="url(#gPrice)"/>
<rect x="107" y="64" width="108" height="33" fill="url(#gPrice)"/>
<rect x="0" y="63" width="44" height="1" fill="#a00000"/>
<rect x="0" y="64" width="44" height="1" fill="#f06060"/>
<rect x="167" y="63" width="44" height="1" fill="#a00000"/>
<rect x="167" y="64" width="44" height="1" fill="#f06060"/>
<rect x="50.5" y="40.5" width="110" height="21" fill="#fff" stroke="#a4a8b4" stroke-width="1"/>
<rect x="52" y="42" width="18" height="18" fill="url(#gBtn)"/>
<rect x="141" y="42" width="18" height="18" fill="url(#gBtn)"/>
<rect x="71" y="41" width="1" height="20" fill="#a4a8b4"/>
<rect x="139" y="41" width="1" height="20" fill="#a4a8b4"/>
<polygon points="57.5,49 63.5,49 60.5,52.5" fill="#4864c8"/>
<polygon points="146.5,52 152.5,52 149.5,48.5" fill="#4864c8"/>
<text x="136" y="55" text-anchor="end" font-size="12.5" fill="#000" letter-spacing="-0.3">1.00</text>
<text x="8.5" y="55.5" font-size="11.5" fill="#fff" letter-spacing="-0.4">SELL</text>
<text x="176.5" y="56" font-size="12" fill="#fff" letter-spacing="-0.3">BUY</text>
<text x="12" y="92" font-size="12" font-weight="bold" fill="#fff" letter-spacing="0.1">26833</text>
<text x="122" y="92" font-size="12" font-weight="bold" fill="#fff" letter-spacing="0.1">26856</text>
<rect x="51.5" y="88" width="4" height="4" fill="#fff"/>
<rect x="162" y="88" width="4" height="4" fill="#fff"/>
<text transform="translate(58.5,92) scale(0.82,1)" font-size="33.5" fill="#fff">5</text>
<text transform="translate(169,92) scale(0.82,1)" font-size="33.5" fill="#fff">5</text>
</g>
<g id="toolbar">
<rect x="0" y="0" width="1699" height="16" fill="#f0f0f0"/>
<rect x="0" y="15" width="1699" height="1" fill="#fafafa"/>
<rect x="0" y="16" width="1699" height="1" fill="#a0a0a0"/>
<rect x="0" y="17" width="1699" height="1" fill="#696969"/>
<rect x="1698" y="18" width="1" height="920" fill="#f0f0f0"/>
<circle cx="-3.5" cy="-0.5" r="5.5" fill="#cfe4f8" stroke="#6a9ae0" stroke-width="1.2"/>
<line x1="0.5" y1="7" x2="4.5" y2="12" stroke="#d8a838" stroke-width="2.4" stroke-linecap="round"/>
<rect x="13" y="0" width="1" height="13" fill="#a0a0a0" shape-rendering="crispEdges"/>
<rect x="14" y="0" width="1" height="13" fill="#ffffff" shape-rendering="crispEdges"/>
<rect x="23.5" y="-3.5" width="11" height="12" fill="#fff" stroke="#8a8a8a" stroke-width="1"/>
<rect x="26" y="1" width="6" height="1" fill="#9a9a9a"/><rect x="26" y="3" width="6" height="1" fill="#9a9a9a"/>
<path d="M31.300,2.500 h3.600 v4.200 h3.900 v3.300 h-3.900 v3.600 h-3.600 v-3.600 h-3.900 v-3.300 h3.900 z" fill="#34d234" stroke="#18961a" stroke-width="0.800" stroke-linejoin="miter"/>
<path d="M32,3.300 h2.200 M28.200,7.500 h3 M35,7.500 h3" stroke="#8af08a" stroke-width="0.800" fill="none"/>
<path d="M23,16 l2,-2 l2,2" fill="none" stroke="#404040" stroke-width="1"/>
<g stroke="#1a1a1a" stroke-width="1" fill="none" stroke-linecap="butt">
<path d="M42.300,1.500 h5.900 M45.300,1.500 v6.200 M43.400,3.600 l-0.900,2.900 M47,3.600 l1,2.600 M49.900,0 v4.300 q0,2.200 -1.400,3.400 M49.900,1.500 h4 M52.300,1.500 v6.300"/>
<path d="M55.700,0.300 v5.900 l1.900,-1.700 M61.400,0 v6.600 q0,1.100 -1.900,0.900"/>
<path d="M68.300,0 v1.400 h8.200 v-1.400 M66.800,4.900 h11.200 M72.400,0 v8"/>
</g>
<defs><linearGradient id="gBook" x1="0" y1="0" x2="1" y2="1"><stop offset="0" stop-color="#fbe58a"/><stop offset="0.55" stop-color="#e4ae2c"/><stop offset="1" stop-color="#b88414"/></linearGradient></defs>
<polygon points="90.300,5.200 97,-3 102,-3 106,4.600 97.600,10.200" fill="url(#gBook)"/>
<polygon points="90.300,5.200 97.600,10.200 97.600,12 90.300,6.800" fill="#a87410"/>
<polygon points="97.600,10.200 106,4.600 106,6.300 97.600,12" fill="#c8962a"/>
<defs><linearGradient id="gCloud" x1="0" y1="0" x2="0" y2="1"><stop offset="0" stop-color="#ffffff"/><stop offset="1" stop-color="#bccce6"/></linearGradient></defs>
<rect x="120" y="-3" width="10.600" height="7.500" fill="#2a78e0"/>
<rect x="122" y="-3" width="1.500" height="6" fill="#cfe2fa"/><rect x="125" y="-3" width="3.500" height="4.500" fill="#e4effc"/>
<path d="M120.500,11.500 q-2.800,0 -2.600,-2.600 q0.200,-2.600 3.200,-2.400 q1.200,-2.700 4.400,-2.200 q2.800,-1 4.300,1.700 q4.200,-0.300 4.100,2.900 q-0.100,2.600 -2.900,2.600 z" fill="url(#gCloud)" stroke="#7c92c4" stroke-width="0.900"/>
<path d="M150.500,-1.500 q-2.200,5 1,10" fill="none" stroke="#7aa6ec" stroke-width="1.100"/>
<path d="M147.800,-3 q-3.500,7 1.200,13.500" fill="none" stroke="#9abcf0" stroke-width="1"/>
<path d="M154,3.700 L157.500,-3.500 A8,8 0 0 1 154.500,11.700 z" fill="#4ea84e" opacity="0.800"/>
<path d="M154,3.700 L156,-0.500 A4.500,4.500 0 0 1 154.300,8.200 z" fill="#9ad09a" opacity="0.700"/>
<rect x="154" y="4" width="1.200" height="7.700" fill="#28a028"/>
<circle cx="154.200" cy="3.500" r="1.700" fill="#2f62d4"/>
<defs><linearGradient id="gHat" x1="0" y1="0" x2="1" y2="1"><stop offset="0" stop-color="#fae878"/><stop offset="1" stop-color="#e6b41c"/></linearGradient></defs>
<path d="M173,1.500 L189,1.500 L187.500,6 L181.500,11.700 L176,8.500 z" fill="url(#gHat)" stroke="#c89c20" stroke-width="0.600"/>
<ellipse cx="181.300" cy="0" rx="7.200" ry="2.700" fill="#5aa4e4"/><ellipse cx="181.300" cy="-0.800" rx="5" ry="1.500" fill="#a8d4f4"/>
<circle cx="185.400" cy="7.700" r="4.300" fill="#dc2412"/>
<rect x="184" y="6.200" width="3" height="3" fill="#fff"/>
<g stroke="#1a1a1a" stroke-width="1" fill="none" stroke-linecap="butt">
<path d="M196.5,0 v7.5 h8 v-7.5 M196.5,1.5 h8 M196.5,4.5 h8"/>
<path d="M207,1.5 h5 M209.5,1.5 l-2,4.5 h4.5 M211,4 l1,2 M213.500,0.500 h4 q0.500,5 -1.500,7 M215.500,0.500 q0,5 -2.500,7.500"/>
<path d="M221,1 l8,7 M229,1 q-3,5 -9,7 M222,0 l-1,1.500 M227.500,0 l1.500,1.500"/>
<path d="M232.500,0 h7.500 M233,2.500 h8 q0,4 -1.500,5.500 M235,0 q-1,3 -3.500,5 M236.500,2.500 q-1,3.500 -4,5.500 M239,2.500 q-1,3.500 -3.500,5.500"/>
</g>
<rect x="250" y="0" width="1" height="13" fill="#a0a0a0" shape-rendering="crispEdges"/>
<rect x="251" y="0" width="1" height="13" fill="#ffffff" shape-rendering="crispEdges"/>
<rect x="253" y="0" width="3" height="1" fill="#a8a8a8" shape-rendering="crispEdges"/>
<rect x="253" y="2" width="3" height="1" fill="#a8a8a8" shape-rendering="crispEdges"/>
<rect x="253" y="4" width="3" height="1" fill="#a8a8a8" shape-rendering="crispEdges"/>
<rect x="253" y="6" width="3" height="1" fill="#a8a8a8" shape-rendering="crispEdges"/>
<rect x="253" y="8" width="3" height="1" fill="#a8a8a8" shape-rendering="crispEdges"/>
<rect x="253" y="10" width="3" height="1" fill="#a8a8a8" shape-rendering="crispEdges"/>
<rect x="253" y="12" width="3" height="1" fill="#a8a8a8" shape-rendering="crispEdges"/>
<rect x="268" y="0" width="1" height="12" fill="#404040" shape-rendering="crispEdges"/>
<rect x="265" y="10" width="13" height="1" fill="#404040" shape-rendering="crispEdges"/>
<polygon points="277,8.5 279.5,10.5 277,12.5" fill="#404040"/>
<path d="M271.500,7 h2.500 v-6.500 h2.500" fill="none" stroke="#18a018" stroke-width="1.6"/>
<rect x="287" y="0" width="1" height="13" fill="#a0a0a0" shape-rendering="crispEdges"/>
<rect x="288" y="0" width="1" height="13" fill="#ffffff" shape-rendering="crispEdges"/>
<rect x="289" y="0" width="23" height="14" fill="#f8f8f8"/>
<rect x="296" y="0" width="1" height="12" fill="#404040" shape-rendering="crispEdges"/>
<rect x="293" y="10" width="13" height="1" fill="#404040" shape-rendering="crispEdges"/>
<polygon points="305,8.5 307.5,10.5 305,12.5" fill="#404040"/>
<rect x="299" y="-2" width="5" height="7" fill="#20b020" stroke="#108010" stroke-width="0.6"/><rect x="301" y="5" width="1" height="3" fill="#108010"/>
<rect x="324" y="0" width="1" height="12" fill="#404040" shape-rendering="crispEdges"/>
<rect x="321" y="10" width="13" height="1" fill="#404040" shape-rendering="crispEdges"/>
<polygon points="333,8.5 335.5,10.5 333,12.5" fill="#404040"/>
<path d="M325,7.500 q4,-8 7,-7 q2,0.500 4,4" fill="none" stroke="#18a018" stroke-width="1.3"/>
<rect x="344" y="0" width="1" height="13" fill="#a0a0a0" shape-rendering="crispEdges"/>
<rect x="345" y="0" width="1" height="13" fill="#ffffff" shape-rendering="crispEdges"/>
<line x1="362.0" y1="5.500" x2="367.5" y2="10.500" stroke="#d8a838" stroke-width="2.8" stroke-linecap="round"/>
<circle cx="358.5" cy="1" r="5.300" fill="#d4e6f8" stroke="#5a8edc" stroke-width="1.4"/>
<rect x="355.5" y="0.500" width="6" height="1.400" fill="#3a6ac8"/>
<rect x="357.8" y="-2" width="1.400" height="6" fill="#3a6ac8"/>
<line x1="390.5" y1="5.500" x2="396" y2="10.500" stroke="#d8a838" stroke-width="2.8" stroke-linecap="round"/>
<circle cx="387" cy="1" r="5.300" fill="#d4e6f8" stroke="#5a8edc" stroke-width="1.4"/>
<rect x="384" y="0.500" width="6" height="1.400" fill="#3a6ac8"/>
<rect x="409" y="-2" width="8" height="5" fill="#48b848"/><rect x="418" y="-2" width="8" height="5" fill="#3a6ae0"/>
<rect x="409" y="4" width="8" height="8" fill="#3a6ae0"/><rect x="418" y="4" width="8" height="8" fill="#48b848"/>
<rect x="411" y="0" width="4" height="1.500" fill="#e8f4e8"/><rect x="420" y="0" width="4" height="1.500" fill="#e8eefc"/>
<rect x="410.500" y="6" width="5" height="2" fill="#e8eefc"/><rect x="419.500" y="6" width="5" height="2" fill="#e8f4e8"/>
<rect x="434" y="0" width="1" height="13" fill="#a0a0a0" shape-rendering="crispEdges"/>
<rect x="435" y="0" width="1" height="13" fill="#ffffff" shape-rendering="crispEdges"/>
<rect x="439" y="0" width="1" height="13" fill="#a0a0a0" shape-rendering="crispEdges"/>
<rect x="440" y="0" width="1" height="13" fill="#ffffff" shape-rendering="crispEdges"/>
<rect x="449" y="0" width="1" height="12" fill="#404040" shape-rendering="crispEdges"/>
<rect x="446" y="10" width="13" height="1" fill="#404040" shape-rendering="crispEdges"/>
<polygon points="458,8.5 460.5,10.5 458,12.5" fill="#404040"/>
<polygon points="452,-2 452,7 457,3" fill="#20b020"/>
<rect x="467" y="0" width="1" height="13" fill="#a0a0a0" shape-rendering="crispEdges"/>
<rect x="468" y="0" width="1" height="13" fill="#ffffff" shape-rendering="crispEdges"/>
<rect x="477" y="0" width="1" height="12" fill="#404040" shape-rendering="crispEdges"/>
<rect x="474" y="10" width="13" height="1" fill="#404040" shape-rendering="crispEdges"/>
<polygon points="486,8.5 488.5,10.5 486,12.5" fill="#404040"/>
<rect x="481" y="0" width="1" height="8" fill="#2a5ac8"/><path d="M483,3.500 h4.500 M483,3.500 l2,-2 M483,3.500 l2,2" stroke="#d03010" stroke-width="1.100" fill="none"/>
<rect x="494" y="0" width="1" height="13" fill="#a0a0a0" shape-rendering="crispEdges"/>
<rect x="495" y="0" width="1" height="13" fill="#ffffff" shape-rendering="crispEdges"/>
<rect x="496" y="0" width="1" height="13" fill="#a0a0a0" shape-rendering="crispEdges"/>
<rect x="497" y="0" width="1" height="13" fill="#ffffff" shape-rendering="crispEdges"/>
<rect x="507.500" y="-3.500" width="8" height="11" fill="#fff" stroke="#8a8a8a"/>
<path d="M514.300,2.800 h3.400 v3.700 h3.800 v3.300 h-3.800 v3.600 h-3.400 v-3.600 h-3.800 v-3.300 h3.800 z" fill="#34d234" stroke="#18961a" stroke-width="0.800" stroke-linejoin="miter"/>
<polygon points="528.0,3 533.0,3 530.5,6" fill="#000"/>
<circle cx="552" cy="3" r="7" fill="#fdfdfd" stroke="#2a62d0" stroke-width="2"/>
<path d="M552,-1 v4 h3" fill="none" stroke="#606060" stroke-width="1"/>
<polygon points="567.0,3 572.0,3 569.5,6" fill="#000"/>
<rect x="583.500" y="-3.500" width="15" height="13.500" fill="#fff" stroke="#3a6ad0" stroke-width="1.200"/>
<rect x="584" y="4" width="14" height="1" fill="#3a6ad0"/>
<path d="M586,2.500 l3,-1 l3,0.500 l4,-1.500" fill="none" stroke="#d02818" stroke-width="1"/>
<path d="M586,8 l3,-1.500 l3,1 l2,-1.500 l2,1.500" fill="none" stroke="#20a020" stroke-width="1"/>
<polygon points="606.0,3 611.0,3 608.5,6" fill="#000"/>
<rect x="617" y="0" width="1" height="13" fill="#a0a0a0" shape-rendering="crispEdges"/>
<rect x="618" y="0" width="1" height="13" fill="#ffffff" shape-rendering="crispEdges"/>
<rect x="620" y="0" width="3" height="1" fill="#a8a8a8" shape-rendering="crispEdges"/>
<rect x="620" y="2" width="3" height="1" fill="#a8a8a8" shape-rendering="crispEdges"/>
<rect x="620" y="4" width="3" height="1" fill="#a8a8a8" shape-rendering="crispEdges"/>
<rect x="620" y="6" width="3" height="1" fill="#a8a8a8" shape-rendering="crispEdges"/>
<rect x="620" y="8" width="3" height="1" fill="#a8a8a8" shape-rendering="crispEdges"/>
<rect x="620" y="10" width="3" height="1" fill="#a8a8a8" shape-rendering="crispEdges"/>
<rect x="620" y="12" width="3" height="1" fill="#a8a8a8" shape-rendering="crispEdges"/>
<rect x="628" y="0" width="1" height="13" fill="#a0a0a0" shape-rendering="crispEdges"/>
<rect x="629" y="0" width="1" height="13" fill="#ffffff" shape-rendering="crispEdges"/>
<rect x="630" y="0" width="23" height="14" fill="#f8f8f8"/>
<polygon points="635,-3 635,9 638,6.500 640.500,11 642.500,10 640,5.500 644,5.500" fill="#383838"/>
<rect x="667" y="-3" width="1" height="15" fill="#404040" shape-rendering="crispEdges"/><rect x="660" y="4" width="15" height="1" fill="#404040" shape-rendering="crispEdges"/>
<rect x="684" y="0" width="1" height="13" fill="#a0a0a0" shape-rendering="crispEdges"/>
<rect x="685" y="0" width="1" height="13" fill="#ffffff" shape-rendering="crispEdges"/>
<rect x="701" y="-3" width="1" height="14" fill="#404040" shape-rendering="crispEdges"/>
<rect x="724" y="4" width="13" height="1" fill="#404040" shape-rendering="crispEdges"/>
<line x1="752" y1="11" x2="764" y2="-1" stroke="#404040" stroke-width="1.100"/>
<path d="M778,9 l10,-10 M781,11 l10,-10 M779,4 h10 M780,8 h8 M783,-1 l2,12 M787,-1 l-3,12" stroke="#505050" stroke-width="1" fill="none"/>
<text x="789" y="12.500" font-size="6.500" font-weight="bold" fill="#303030">E</text>
<line x1="807" y1="0.5" x2="821" y2="0.5" stroke="#404040" stroke-width="1" stroke-dasharray="1 1" shape-rendering="crispEdges"/>
<line x1="807" y1="4.5" x2="821" y2="4.5" stroke="#404040" stroke-width="1" stroke-dasharray="1 1" shape-rendering="crispEdges"/>
<line x1="807" y1="8.5" x2="821" y2="8.5" stroke="#404040" stroke-width="1" stroke-dasharray="1 1" shape-rendering="crispEdges"/>
<text x="816.500" y="12.500" font-size="6.500" font-weight="bold" fill="#303030">F</text>
<text x="837.500" y="9" font-size="13" fill="#505050">A</text>
<rect x="864.500" y="-0.500" width="11" height="11" fill="none" stroke="#505050" stroke-width="1" stroke-dasharray="1 1" shape-rendering="crispEdges"/>
<text x="866" y="8.500" font-size="11" font-weight="bold" fill="#404040">T</text>
<path d="M891,3 l3,3 l5,-6" fill="none" stroke="#404040" stroke-width="1.800"/>
<polygon points="890,0 893,-2.500 896,0 893,2.500" fill="#404040"/><polygon points="898,8 901.500,5 905,8 901.500,11" fill="#404040"/>
<polygon points="912.0,3 917.0,3 914.5,6" fill="#000"/>
<rect x="923" y="0" width="1" height="13" fill="#a0a0a0" shape-rendering="crispEdges"/>
<rect x="924" y="0" width="1" height="13" fill="#ffffff" shape-rendering="crispEdges"/>
<rect x="926" y="0" width="3" height="1" fill="#a8a8a8" shape-rendering="crispEdges"/>
<rect x="926" y="2" width="3" height="1" fill="#a8a8a8" shape-rendering="crispEdges"/>
<rect x="926" y="4" width="3" height="1" fill="#a8a8a8" shape-rendering="crispEdges"/>
<rect x="926" y="6" width="3" height="1" fill="#a8a8a8" shape-rendering="crispEdges"/>
<rect x="926" y="8" width="3" height="1" fill="#a8a8a8" shape-rendering="crispEdges"/>
<rect x="926" y="10" width="3" height="1" fill="#a8a8a8" shape-rendering="crispEdges"/>
<rect x="926" y="12" width="3" height="1" fill="#a8a8a8" shape-rendering="crispEdges"/>
<rect x="1073" y="0" width="25" height="14" fill="#f8f8f8"/><rect x="1073" y="0" width="1" height="14" fill="#a0a0a0"/>
<text class="tf" x="938.0" y="8" textLength="13.3" lengthAdjust="spacingAndGlyphs">M1</text>
<text class="tf" x="966.0" y="8" textLength="13.0" lengthAdjust="spacingAndGlyphs">M5</text>
<text class="tf" x="992.0" y="8" textLength="18.0" lengthAdjust="spacingAndGlyphs">M15</text>
<text class="tf" x="1020.0" y="8" textLength="18.0" lengthAdjust="spacingAndGlyphs">M30</text>
<text class="tf" x="1050.8" y="8" textLength="12.7" lengthAdjust="spacingAndGlyphs">H1</text>
<text class="tf" x="1077.7" y="8" textLength="13.3" lengthAdjust="spacingAndGlyphs">H4</text>
<text class="tf" x="1107.0" y="8" textLength="12.5" lengthAdjust="spacingAndGlyphs">D1</text>
<text class="tf" x="1134.5" y="8" textLength="14.5" lengthAdjust="spacingAndGlyphs">W1</text>
<text class="tf" x="1160.9" y="8" textLength="15.6" lengthAdjust="spacingAndGlyphs">MN</text>
<rect x="1184" y="0" width="1" height="13" fill="#a0a0a0" shape-rendering="crispEdges"/>
<rect x="1185" y="0" width="1" height="13" fill="#ffffff" shape-rendering="crispEdges"/>
<circle cx="1654" cy="0" r="4.200" fill="#f4f8fe" stroke="#2a5ad0" stroke-width="1.400"/>
<line x1="1651.500" y1="4" x2="1647" y2="8.500" stroke="#2a5ad0" stroke-width="2.400" stroke-linecap="round"/>
<ellipse cx="1677" cy="6" rx="5.500" ry="4.500" fill="#e4e6ee" stroke="#a8a8a8" stroke-width="0.800"/>
<polygon points="1674,10 1673.500,13 1677,10.500" fill="#b8b8b8"/>
<circle cx="1685.500" cy="1" r="8.300" fill="url(#gBadge)"/>
<rect x="1684.700" y="-3" width="1.400" height="8" fill="#fff"/><rect x="1682" y="5" width="5.500" height="1" fill="#fff"/>
</g>
</svg></body></html>
